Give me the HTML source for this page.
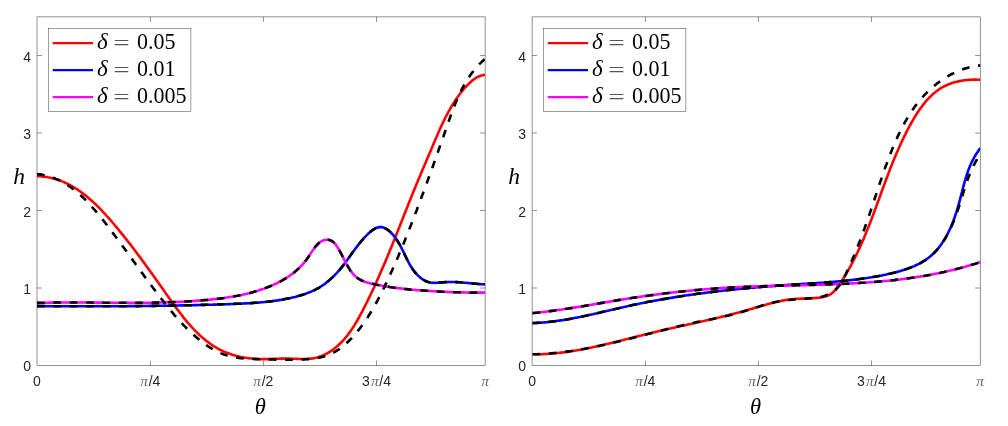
<!DOCTYPE html>
<html><head><meta charset="utf-8"><style>
html,body{margin:0;padding:0;background:#fff;}
svg{display:block;}
.tk{font-family:"Liberation Sans",sans-serif;font-size:14px;fill:#262626;}
.pi{font-family:"Liberation Serif",serif;font-style:italic;font-size:15.5px;fill:#686868;}
.lab{font-family:"Liberation Serif",serif;font-style:italic;font-size:24.5px;fill:#000;}
.lg{font-family:"Liberation Serif",serif;font-size:22px;fill:#000;white-space:pre;}
.it{font-style:italic;}
</style></head><body>
<svg width="1008" height="426" viewBox="0 0 1008 426">
<rect width="1008" height="426" fill="#fff"/>
<clipPath id="clipL"><rect x="37.0" y="16.9" width="448.1" height="348.6"/></clipPath>
<g clip-path="url(#clipL)" fill="none" stroke-width="2.6" stroke-linejoin="round">
<path stroke="#ff0000" d="M37.0 176.2 L38.6 176.2 L40.1 176.3 L41.7 176.5 L43.2 176.6 L44.8 176.8 L46.3 177.0 L47.8 177.3 L49.3 177.5 L50.7 177.8 L52.2 178.2 L53.6 178.6 L55.1 179.0 L56.5 179.4 L57.9 179.8 L59.3 180.3 L60.7 180.8 L62.0 181.4 L63.4 181.9 L64.7 182.5 L66.1 183.1 L67.4 183.8 L68.7 184.4 L70.0 185.1 L71.3 185.8 L72.6 186.5 L73.8 187.3 L75.1 188.0 L76.3 188.8 L77.6 189.6 L78.8 190.5 L80.0 191.3 L81.2 192.2 L82.4 193.1 L83.6 194.0 L84.8 194.9 L86.0 195.8 L87.1 196.8 L88.3 197.7 L89.4 198.7 L90.6 199.7 L91.7 200.7 L92.8 201.7 L93.9 202.7 L95.0 203.8 L96.1 204.8 L97.2 205.9 L98.3 206.9 L99.3 208.0 L100.4 209.1 L101.5 210.2 L102.5 211.3 L103.5 212.4 L104.6 213.5 L105.6 214.7 L106.6 215.8 L107.7 216.9 L108.7 218.1 L109.7 219.2 L110.7 220.4 L111.7 221.5 L112.7 222.7 L113.6 223.8 L114.6 225.0 L115.6 226.1 L116.6 227.3 L117.5 228.4 L118.5 229.6 L119.4 230.8 L120.4 231.9 L121.3 233.1 L122.3 234.3 L123.2 235.4 L124.1 236.6 L125.1 237.8 L126.0 238.9 L126.9 240.1 L127.8 241.3 L128.7 242.4 L129.7 243.6 L130.6 244.8 L131.5 246.0 L132.4 247.1 L133.3 248.3 L134.2 249.5 L135.1 250.7 L136.0 251.9 L136.8 253.1 L137.7 254.2 L138.6 255.4 L139.5 256.6 L140.4 257.8 L141.3 259.0 L142.1 260.2 L143.0 261.4 L143.9 262.6 L144.8 263.8 L145.6 265.0 L146.5 266.2 L147.4 267.4 L148.2 268.6 L149.1 269.8 L150.0 271.0 L150.8 272.2 L151.7 273.4 L152.6 274.6 L153.4 275.8 L154.3 277.0 L155.2 278.3 L156.0 279.5 L156.9 280.7 L157.8 281.9 L158.6 283.1 L159.5 284.4 L160.4 285.6 L161.2 286.8 L162.1 288.0 L163.0 289.3 L163.8 290.5 L164.7 291.7 L165.6 293.0 L166.5 294.2 L167.3 295.5 L168.2 296.7 L169.1 297.9 L170.0 299.2 L170.9 300.4 L171.7 301.7 L172.6 302.9 L173.5 304.1 L174.4 305.4 L175.3 306.6 L176.2 307.9 L177.1 309.1 L178.1 310.3 L179.0 311.5 L179.9 312.8 L180.8 314.0 L181.8 315.2 L182.7 316.4 L183.6 317.6 L184.6 318.8 L185.6 319.9 L186.5 321.1 L187.5 322.3 L188.5 323.4 L189.5 324.6 L190.5 325.7 L191.5 326.8 L192.5 327.9 L193.5 329.0 L194.5 330.1 L195.6 331.2 L196.6 332.2 L197.7 333.3 L198.8 334.3 L199.8 335.3 L200.9 336.3 L202.0 337.3 L203.2 338.3 L204.3 339.2 L205.4 340.1 L206.6 341.1 L207.7 341.9 L208.9 342.8 L210.1 343.7 L211.3 344.5 L212.5 345.3 L213.7 346.1 L215.0 346.9 L216.2 347.6 L217.5 348.4 L218.8 349.1 L220.1 349.8 L221.4 350.4 L222.7 351.0 L224.1 351.7 L225.5 352.2 L226.8 352.8 L228.2 353.3 L229.6 353.8 L231.1 354.3 L232.5 354.8 L233.9 355.2 L235.4 355.6 L236.9 356.0 L238.4 356.3 L239.8 356.7 L241.3 357.0 L242.8 357.3 L244.3 357.5 L245.9 357.8 L247.4 358.0 L248.9 358.2 L250.4 358.4 L251.9 358.5 L253.5 358.7 L255.0 358.8 L256.5 358.9 L258.0 359.0 L259.5 359.0 L261.0 359.1 L262.5 359.1 L264.0 359.1 L265.5 359.1 L267.0 359.1 L268.5 359.1 L270.0 359.0 L271.5 359.0 L272.9 358.9 L274.4 358.8 L275.9 358.8 L277.3 358.7 L278.8 358.7 L280.3 358.6 L281.8 358.6 L283.3 358.6 L284.8 358.5 L286.3 358.5 L287.8 358.6 L289.3 358.6 L290.9 358.7 L292.4 358.7 L294.0 358.8 L295.5 358.8 L297.1 358.9 L298.6 359.0 L300.2 359.0 L301.7 359.0 L303.2 359.0 L304.8 359.0 L306.3 359.0 L307.8 358.9 L309.3 358.8 L310.8 358.6 L312.3 358.5 L313.8 358.2 L315.2 357.9 L316.7 357.6 L318.1 357.2 L319.5 356.7 L320.9 356.2 L322.2 355.7 L323.6 355.1 L324.9 354.5 L326.2 353.8 L327.5 353.1 L328.8 352.4 L330.0 351.6 L331.3 350.8 L332.5 350.0 L333.7 349.1 L334.8 348.2 L336.0 347.2 L337.1 346.3 L338.2 345.3 L339.3 344.3 L340.4 343.2 L341.5 342.2 L342.5 341.1 L343.5 340.0 L344.5 338.9 L345.4 337.8 L346.4 336.6 L347.3 335.5 L348.2 334.3 L349.1 333.1 L350.0 331.9 L350.9 330.6 L351.7 329.4 L352.5 328.1 L353.4 326.9 L354.2 325.6 L355.0 324.3 L355.7 323.0 L356.5 321.7 L357.3 320.4 L358.0 319.1 L358.8 317.8 L359.5 316.4 L360.2 315.1 L360.9 313.8 L361.7 312.4 L362.4 311.1 L363.1 309.7 L363.8 308.4 L364.4 307.0 L365.1 305.7 L365.8 304.3 L366.5 303.0 L367.2 301.6 L367.8 300.3 L368.5 298.9 L369.2 297.6 L369.8 296.2 L370.5 294.8 L371.1 293.5 L371.8 292.1 L372.4 290.8 L373.0 289.4 L373.7 288.0 L374.3 286.7 L374.9 285.3 L375.6 283.9 L376.2 282.6 L376.8 281.2 L377.4 279.8 L378.0 278.5 L378.6 277.1 L379.2 275.7 L379.8 274.4 L380.4 273.0 L381.0 271.6 L381.6 270.2 L382.2 268.9 L382.8 267.5 L383.4 266.1 L384.0 264.7 L384.6 263.4 L385.2 262.0 L385.7 260.6 L386.3 259.2 L386.9 257.8 L387.5 256.5 L388.0 255.1 L388.6 253.7 L389.2 252.3 L389.7 250.9 L390.3 249.5 L390.9 248.2 L391.4 246.8 L392.0 245.4 L392.6 244.0 L393.1 242.6 L393.7 241.2 L394.2 239.9 L394.8 238.5 L395.3 237.1 L395.9 235.7 L396.4 234.3 L397.0 232.9 L397.6 231.5 L398.1 230.1 L398.7 228.7 L399.2 227.4 L399.8 226.0 L400.3 224.6 L400.9 223.2 L401.4 221.8 L402.0 220.4 L402.5 219.0 L403.1 217.6 L403.6 216.2 L404.2 214.8 L404.7 213.5 L405.3 212.1 L405.8 210.7 L406.4 209.3 L406.9 207.9 L407.5 206.5 L408.0 205.1 L408.6 203.7 L409.1 202.3 L409.7 200.9 L410.3 199.5 L410.8 198.1 L411.4 196.7 L411.9 195.4 L412.5 194.0 L413.1 192.6 L413.6 191.2 L414.2 189.8 L414.8 188.4 L415.4 187.0 L415.9 185.6 L416.5 184.2 L417.1 182.8 L417.7 181.4 L418.2 180.0 L418.8 178.7 L419.4 177.3 L420.0 175.9 L420.6 174.5 L421.2 173.1 L421.7 171.7 L422.3 170.3 L422.9 168.9 L423.5 167.5 L424.1 166.2 L424.7 164.8 L425.3 163.4 L425.9 162.0 L426.4 160.6 L427.0 159.2 L427.6 157.9 L428.2 156.5 L428.8 155.1 L429.4 153.7 L430.0 152.3 L430.6 151.0 L431.1 149.6 L431.7 148.2 L432.3 146.8 L432.9 145.5 L433.5 144.1 L434.0 142.7 L434.6 141.4 L435.2 140.0 L435.8 138.6 L436.4 137.3 L437.0 135.9 L437.5 134.5 L438.1 133.2 L438.7 131.8 L439.3 130.5 L439.9 129.1 L440.6 127.7 L441.2 126.4 L441.8 125.0 L442.4 123.7 L443.1 122.4 L443.7 121.0 L444.4 119.7 L445.0 118.3 L445.7 117.0 L446.4 115.7 L447.1 114.3 L447.8 113.0 L448.5 111.7 L449.3 110.3 L450.0 109.0 L450.8 107.7 L451.5 106.4 L452.3 105.1 L453.1 103.8 L453.9 102.5 L454.8 101.2 L455.6 99.9 L456.5 98.7 L457.3 97.4 L458.2 96.2 L459.1 94.9 L460.0 93.7 L460.9 92.5 L461.9 91.4 L462.8 90.2 L463.8 89.1 L464.8 87.9 L465.8 86.8 L466.8 85.8 L467.8 84.7 L468.9 83.7 L469.9 82.7 L471.0 81.7 L472.1 80.7 L473.2 79.8 L474.4 79.0 L475.6 78.2 L476.8 77.4 L478.1 76.8 L479.5 76.2 L480.9 75.7 L482.3 75.3 L483.9 75.0 L485.5 74.8"/>
<path stroke="#0000ff" d="M37.0 306.1 L38.5 306.1 L40.0 306.1 L41.5 306.1 L43.0 306.1 L44.5 306.1 L46.0 306.2 L47.5 306.2 L49.0 306.2 L50.5 306.2 L52.0 306.2 L53.5 306.2 L55.0 306.2 L56.5 306.2 L57.9 306.2 L59.4 306.2 L60.9 306.2 L62.4 306.2 L63.9 306.2 L65.4 306.2 L66.9 306.2 L68.4 306.3 L69.9 306.3 L71.4 306.3 L72.9 306.3 L74.4 306.3 L75.9 306.3 L77.4 306.3 L78.9 306.3 L80.4 306.3 L81.9 306.3 L83.4 306.3 L84.9 306.3 L86.4 306.3 L87.9 306.3 L89.4 306.3 L90.9 306.3 L92.4 306.3 L93.8 306.3 L95.3 306.3 L96.8 306.3 L98.3 306.3 L99.8 306.3 L101.3 306.3 L102.8 306.3 L104.3 306.3 L105.8 306.3 L107.3 306.3 L108.8 306.2 L110.3 306.2 L111.8 306.2 L113.3 306.2 L114.8 306.2 L116.3 306.2 L117.8 306.2 L119.3 306.2 L120.8 306.2 L122.3 306.2 L123.8 306.2 L125.3 306.2 L126.7 306.2 L128.2 306.1 L129.7 306.1 L131.2 306.1 L132.7 306.1 L134.2 306.1 L135.7 306.1 L137.2 306.1 L138.7 306.1 L140.2 306.0 L141.7 306.0 L143.2 306.0 L144.7 306.0 L146.2 306.0 L147.7 306.0 L149.2 305.9 L150.7 305.9 L152.2 305.9 L153.7 305.9 L155.2 305.9 L156.7 305.8 L158.2 305.8 L159.6 305.8 L161.1 305.8 L162.6 305.8 L164.1 305.7 L165.6 305.7 L167.1 305.7 L168.6 305.7 L170.1 305.6 L171.6 305.6 L173.1 305.6 L174.6 305.6 L176.1 305.5 L177.6 305.5 L179.1 305.5 L180.6 305.4 L182.1 305.4 L183.6 305.4 L185.1 305.3 L186.6 305.3 L188.1 305.3 L189.6 305.2 L191.0 305.2 L192.5 305.2 L194.0 305.1 L195.5 305.1 L197.0 305.1 L198.5 305.0 L200.0 305.0 L201.5 304.9 L203.0 304.9 L204.5 304.9 L206.0 304.8 L207.5 304.8 L209.0 304.7 L210.5 304.7 L212.0 304.7 L213.5 304.6 L215.0 304.6 L216.5 304.5 L218.0 304.5 L219.5 304.4 L221.0 304.4 L222.5 304.3 L224.0 304.3 L225.4 304.2 L226.9 304.2 L228.4 304.1 L229.9 304.1 L231.4 304.0 L232.9 304.0 L234.4 303.9 L235.9 303.8 L237.4 303.8 L238.9 303.7 L240.4 303.7 L241.9 303.6 L243.4 303.5 L244.9 303.4 L246.4 303.4 L247.9 303.3 L249.4 303.2 L250.9 303.1 L252.4 303.0 L253.8 302.9 L255.3 302.8 L256.8 302.7 L258.3 302.6 L259.8 302.5 L261.3 302.3 L262.8 302.2 L264.3 302.0 L265.8 301.9 L267.2 301.7 L268.7 301.6 L270.2 301.4 L271.7 301.2 L273.2 301.0 L274.6 300.8 L276.1 300.6 L277.6 300.4 L279.1 300.1 L280.6 299.9 L282.0 299.7 L283.5 299.4 L285.0 299.1 L286.4 298.8 L287.9 298.5 L289.4 298.2 L290.8 297.9 L292.3 297.6 L293.8 297.2 L295.2 296.9 L296.7 296.5 L298.1 296.1 L299.6 295.7 L301.0 295.3 L302.4 294.8 L303.9 294.4 L305.3 293.9 L306.7 293.4 L308.1 292.8 L309.5 292.3 L310.9 291.7 L312.2 291.1 L313.6 290.5 L314.9 289.9 L316.3 289.2 L317.6 288.5 L318.9 287.8 L320.1 287.0 L321.4 286.2 L322.6 285.4 L323.9 284.5 L325.1 283.7 L326.2 282.7 L327.4 281.8 L328.6 280.9 L329.7 279.9 L330.8 278.9 L331.9 277.9 L333.0 276.8 L334.1 275.8 L335.1 274.7 L336.2 273.6 L337.2 272.5 L338.2 271.4 L339.2 270.3 L340.1 269.1 L341.1 268.0 L342.0 266.8 L343.0 265.7 L343.9 264.5 L344.8 263.3 L345.7 262.1 L346.6 260.9 L347.4 259.7 L348.3 258.5 L349.2 257.3 L350.0 256.1 L350.9 254.8 L351.8 253.6 L352.6 252.4 L353.5 251.2 L354.4 250.0 L355.3 248.8 L356.2 247.6 L357.1 246.4 L358.0 245.2 L358.9 244.0 L359.9 242.9 L360.8 241.7 L361.8 240.5 L362.8 239.4 L363.8 238.2 L364.9 237.1 L366.0 236.0 L367.0 234.9 L368.2 233.8 L369.3 232.8 L370.5 231.8 L371.7 230.8 L372.9 229.9 L374.1 229.1 L375.3 228.4 L376.6 227.8 L377.9 227.4 L379.1 227.1 L380.4 227.0 L381.7 227.1 L382.9 227.4 L384.2 227.8 L385.4 228.4 L386.7 229.1 L387.9 230.0 L389.1 230.9 L390.2 231.9 L391.3 233.0 L392.4 234.2 L393.5 235.4 L394.5 236.6 L395.4 237.9 L396.3 239.2 L397.2 240.5 L398.0 241.8 L398.8 243.1 L399.6 244.4 L400.3 245.7 L401.0 247.1 L401.7 248.4 L402.4 249.8 L403.1 251.1 L403.7 252.5 L404.4 253.8 L405.0 255.2 L405.6 256.5 L406.3 257.9 L406.9 259.2 L407.6 260.5 L408.3 261.9 L409.0 263.2 L409.7 264.5 L410.5 265.8 L411.3 267.0 L412.1 268.3 L412.9 269.5 L413.8 270.7 L414.7 271.9 L415.7 273.1 L416.7 274.2 L417.8 275.3 L418.9 276.4 L420.0 277.4 L421.2 278.3 L422.4 279.2 L423.7 280.0 L424.9 280.7 L426.2 281.3 L427.6 281.8 L429.0 282.2 L430.4 282.5 L431.8 282.7 L433.2 282.8 L434.7 282.9 L436.2 282.8 L437.7 282.7 L439.2 282.6 L440.7 282.5 L442.2 282.4 L443.7 282.2 L445.3 282.1 L446.8 282.1 L448.3 282.0 L449.8 282.0 L451.3 282.0 L452.8 282.0 L454.3 282.0 L455.7 282.1 L457.2 282.1 L458.7 282.2 L460.2 282.3 L461.7 282.4 L463.2 282.6 L464.6 282.7 L466.1 282.8 L467.6 283.0 L469.1 283.1 L470.6 283.3 L472.0 283.4 L473.5 283.5 L475.0 283.7 L476.5 283.8 L478.0 284.0 L479.5 284.1 L481.0 284.2 L482.5 284.3 L484.0 284.4 L485.5 284.5"/>
<path stroke="#ff00ff" d="M37.0 302.9 L38.5 302.9 L40.0 302.8 L41.5 302.8 L43.0 302.7 L44.5 302.7 L46.0 302.7 L47.5 302.7 L49.0 302.6 L50.5 302.6 L52.0 302.6 L53.5 302.6 L55.0 302.5 L56.5 302.5 L58.0 302.5 L59.5 302.5 L61.0 302.5 L62.5 302.5 L64.0 302.5 L65.5 302.5 L67.0 302.5 L68.5 302.5 L70.0 302.5 L71.5 302.5 L73.0 302.5 L74.5 302.5 L76.0 302.5 L77.5 302.5 L79.0 302.5 L80.5 302.5 L82.0 302.5 L83.5 302.5 L85.0 302.5 L86.5 302.5 L88.0 302.5 L89.5 302.5 L91.0 302.5 L92.5 302.6 L94.0 302.6 L95.5 302.6 L97.0 302.6 L98.4 302.6 L99.9 302.6 L101.4 302.6 L102.9 302.6 L104.4 302.7 L105.9 302.7 L107.4 302.7 L108.9 302.7 L110.4 302.7 L111.9 302.7 L113.4 302.7 L114.9 302.7 L116.4 302.7 L117.9 302.8 L119.4 302.8 L120.9 302.8 L122.4 302.8 L123.9 302.8 L125.4 302.8 L126.8 302.8 L128.3 302.8 L129.8 302.8 L131.3 302.8 L132.8 302.8 L134.3 302.8 L135.8 302.8 L137.3 302.8 L138.8 302.8 L140.3 302.8 L141.8 302.8 L143.3 302.8 L144.8 302.7 L146.3 302.7 L147.8 302.7 L149.3 302.7 L150.8 302.7 L152.2 302.7 L153.7 302.6 L155.2 302.6 L156.7 302.6 L158.2 302.6 L159.7 302.5 L161.2 302.5 L162.7 302.4 L164.2 302.4 L165.7 302.4 L167.2 302.3 L168.7 302.3 L170.2 302.2 L171.7 302.2 L173.2 302.1 L174.7 302.0 L176.2 302.0 L177.7 301.9 L179.2 301.8 L180.7 301.8 L182.1 301.7 L183.6 301.6 L185.1 301.5 L186.6 301.5 L188.1 301.4 L189.6 301.3 L191.1 301.2 L192.6 301.1 L194.1 301.0 L195.6 300.9 L197.1 300.8 L198.6 300.6 L200.1 300.5 L201.6 300.4 L203.1 300.3 L204.6 300.1 L206.1 300.0 L207.6 299.9 L209.1 299.7 L210.6 299.6 L212.1 299.4 L213.6 299.3 L215.1 299.1 L216.6 298.9 L218.1 298.7 L219.6 298.6 L221.1 298.4 L222.6 298.2 L224.0 298.0 L225.5 297.7 L227.0 297.5 L228.5 297.3 L230.0 297.1 L231.5 296.8 L232.9 296.6 L234.4 296.3 L235.9 296.0 L237.4 295.8 L238.8 295.5 L240.3 295.2 L241.8 294.9 L243.2 294.5 L244.7 294.2 L246.1 293.9 L247.6 293.5 L249.0 293.2 L250.5 292.8 L251.9 292.4 L253.4 292.0 L254.8 291.6 L256.2 291.2 L257.6 290.7 L259.1 290.3 L260.5 289.8 L261.9 289.3 L263.3 288.9 L264.7 288.4 L266.1 287.8 L267.5 287.3 L268.8 286.8 L270.2 286.2 L271.6 285.6 L273.0 285.0 L274.3 284.4 L275.7 283.8 L277.0 283.2 L278.3 282.5 L279.6 281.8 L281.0 281.1 L282.3 280.4 L283.5 279.7 L284.8 278.9 L286.1 278.1 L287.3 277.3 L288.6 276.5 L289.8 275.7 L291.0 274.8 L292.2 273.9 L293.4 273.0 L294.6 272.1 L295.7 271.1 L296.8 270.1 L298.0 269.1 L299.1 268.1 L300.1 267.0 L301.2 265.9 L302.2 264.8 L303.3 263.6 L304.3 262.4 L305.3 261.2 L306.2 260.0 L307.2 258.7 L308.1 257.4 L309.0 256.1 L309.9 254.8 L310.7 253.4 L311.6 252.1 L312.5 250.8 L313.4 249.5 L314.3 248.2 L315.2 247.0 L316.1 245.8 L317.1 244.8 L318.1 243.7 L319.2 242.8 L320.2 242.0 L321.4 241.3 L322.6 240.7 L323.8 240.2 L325.1 239.9 L326.5 239.7 L327.8 239.7 L329.1 239.9 L330.4 240.3 L331.6 240.9 L332.8 241.7 L333.9 242.6 L334.9 243.6 L335.8 244.8 L336.7 246.0 L337.6 247.3 L338.4 248.7 L339.2 250.0 L339.9 251.4 L340.7 252.8 L341.4 254.1 L342.1 255.5 L342.8 256.8 L343.4 258.2 L344.1 259.5 L344.8 260.9 L345.5 262.3 L346.2 263.6 L347.0 264.9 L347.8 266.3 L348.5 267.6 L349.4 268.9 L350.2 270.2 L351.1 271.4 L352.0 272.6 L353.0 273.8 L354.0 274.9 L355.0 275.9 L356.1 276.9 L357.2 277.8 L358.4 278.6 L359.7 279.4 L360.9 280.1 L362.2 280.7 L363.6 281.3 L364.9 281.8 L366.3 282.3 L367.8 282.7 L369.2 283.1 L370.7 283.5 L372.1 283.8 L373.6 284.1 L375.1 284.4 L376.6 284.7 L378.0 285.0 L379.5 285.3 L381.0 285.6 L382.5 285.9 L384.0 286.1 L385.5 286.4 L387.0 286.6 L388.4 286.8 L389.9 287.1 L391.4 287.3 L392.9 287.5 L394.4 287.7 L395.9 287.9 L397.4 288.1 L398.8 288.3 L400.3 288.4 L401.8 288.6 L403.3 288.8 L404.8 289.0 L406.3 289.1 L407.8 289.3 L409.3 289.4 L410.7 289.6 L412.2 289.7 L413.7 289.8 L415.2 289.9 L416.7 290.1 L418.2 290.2 L419.7 290.3 L421.2 290.4 L422.7 290.5 L424.2 290.6 L425.6 290.7 L427.1 290.8 L428.6 290.9 L430.1 291.0 L431.6 291.1 L433.1 291.2 L434.6 291.3 L436.1 291.4 L437.6 291.5 L439.1 291.6 L440.6 291.6 L442.1 291.7 L443.6 291.8 L445.1 291.8 L446.6 291.9 L448.1 292.0 L449.6 292.0 L451.1 292.1 L452.6 292.1 L454.1 292.2 L455.6 292.2 L457.1 292.3 L458.6 292.3 L460.1 292.4 L461.5 292.4 L463.0 292.4 L464.5 292.5 L466.0 292.5 L467.5 292.5 L469.0 292.6 L470.5 292.6 L472.0 292.6 L473.5 292.6 L475.0 292.6 L476.5 292.6 L478.0 292.6 L479.5 292.6 L481.0 292.6 L482.5 292.6 L484.0 292.6 L485.5 292.6"/>
<path stroke="#000" stroke-dasharray="7.7 8.67" d="M37.0 174.0 L38.6 174.2 L40.1 174.4 L41.6 174.6 L43.1 174.9 L44.6 175.2 L46.1 175.6 L47.5 176.0 L49.0 176.4 L50.4 176.8 L51.8 177.3 L53.2 177.8 L54.6 178.3 L55.9 178.9 L57.3 179.4 L58.6 180.0 L59.9 180.7 L61.2 181.3 L62.5 182.0 L63.8 182.7 L65.0 183.5 L66.3 184.2 L67.5 185.0 L68.7 185.8 L69.9 186.7 L71.1 187.5 L72.3 188.4 L73.5 189.3 L74.7 190.2 L75.8 191.1 L77.0 192.0 L78.1 193.0 L79.2 194.0 L80.3 195.0 L81.4 196.0 L82.5 197.0 L83.6 198.0 L84.7 199.1 L85.7 200.1 L86.8 201.2 L87.8 202.3 L88.9 203.4 L89.9 204.5 L90.9 205.6 L91.9 206.8 L92.9 207.9 L93.9 209.1 L94.9 210.2 L95.9 211.4 L96.9 212.5 L97.9 213.7 L98.8 214.9 L99.8 216.1 L100.8 217.3 L101.7 218.5 L102.7 219.7 L103.6 220.8 L104.6 222.0 L105.5 223.2 L106.4 224.4 L107.3 225.6 L108.3 226.8 L109.2 228.0 L110.1 229.3 L111.0 230.5 L111.9 231.7 L112.8 232.9 L113.7 234.1 L114.6 235.3 L115.5 236.5 L116.4 237.7 L117.3 238.9 L118.2 240.1 L119.1 241.3 L120.0 242.5 L120.9 243.7 L121.8 244.9 L122.6 246.1 L123.5 247.3 L124.4 248.5 L125.3 249.7 L126.2 250.9 L127.0 252.1 L127.9 253.3 L128.8 254.5 L129.6 255.7 L130.5 257.0 L131.4 258.2 L132.3 259.4 L133.1 260.6 L134.0 261.8 L134.9 263.0 L135.7 264.2 L136.6 265.4 L137.5 266.6 L138.3 267.8 L139.2 269.0 L140.1 270.2 L140.9 271.4 L141.8 272.6 L142.7 273.8 L143.6 275.0 L144.4 276.2 L145.3 277.4 L146.2 278.6 L147.1 279.8 L148.0 281.0 L148.8 282.2 L149.7 283.4 L150.6 284.6 L151.5 285.8 L152.4 287.0 L153.3 288.2 L154.2 289.3 L155.1 290.5 L156.0 291.7 L156.9 292.9 L157.8 294.1 L158.7 295.3 L159.6 296.5 L160.5 297.7 L161.4 298.9 L162.3 300.0 L163.3 301.2 L164.2 302.4 L165.1 303.6 L166.1 304.8 L167.0 305.9 L168.0 307.1 L168.9 308.3 L169.9 309.5 L170.8 310.6 L171.8 311.8 L172.8 313.0 L173.7 314.1 L174.7 315.3 L175.7 316.4 L176.7 317.5 L177.7 318.7 L178.7 319.8 L179.7 320.9 L180.7 322.0 L181.8 323.2 L182.8 324.3 L183.8 325.4 L184.9 326.4 L185.9 327.5 L187.0 328.6 L188.1 329.6 L189.1 330.7 L190.2 331.7 L191.3 332.8 L192.4 333.8 L193.5 334.8 L194.7 335.8 L195.8 336.8 L196.9 337.8 L198.1 338.7 L199.3 339.7 L200.4 340.6 L201.6 341.6 L202.8 342.5 L204.0 343.4 L205.2 344.3 L206.4 345.1 L207.7 346.0 L208.9 346.8 L210.2 347.6 L211.4 348.4 L212.7 349.1 L214.0 349.8 L215.3 350.5 L216.6 351.2 L217.9 351.9 L219.2 352.5 L220.6 353.1 L221.9 353.6 L223.3 354.2 L224.7 354.7 L226.1 355.1 L227.5 355.6 L228.9 355.9 L230.3 356.3 L231.7 356.6 L233.2 356.9 L234.6 357.2 L236.1 357.5 L237.5 357.7 L239.0 357.9 L240.5 358.1 L242.0 358.2 L243.5 358.4 L245.0 358.5 L246.5 358.6 L248.0 358.7 L249.5 358.8 L251.0 358.9 L252.5 358.9 L254.0 359.0 L255.5 359.1 L257.1 359.1 L258.6 359.2 L260.1 359.2 L261.6 359.2 L263.1 359.3 L264.6 359.3 L266.1 359.4 L267.6 359.4 L269.1 359.4 L270.7 359.5 L272.2 359.5 L273.7 359.5 L275.2 359.6 L276.7 359.6 L278.2 359.6 L279.7 359.6 L281.2 359.7 L282.7 359.7 L284.2 359.7 L285.7 359.7 L287.2 359.7 L288.7 359.7 L290.2 359.7 L291.8 359.7 L293.3 359.7 L294.8 359.6 L296.3 359.6 L297.8 359.6 L299.3 359.5 L300.9 359.5 L302.4 359.4 L303.9 359.4 L305.4 359.3 L306.9 359.2 L308.4 359.1 L310.0 359.0 L311.5 358.8 L313.0 358.7 L314.5 358.5 L315.9 358.3 L317.4 358.0 L318.9 357.7 L320.3 357.4 L321.7 357.1 L323.2 356.7 L324.6 356.3 L326.0 355.9 L327.3 355.4 L328.7 354.9 L330.0 354.3 L331.3 353.7 L332.6 353.0 L333.9 352.4 L335.2 351.6 L336.4 350.9 L337.6 350.1 L338.9 349.3 L340.1 348.5 L341.2 347.6 L342.4 346.7 L343.6 345.8 L344.7 344.8 L345.8 343.8 L346.9 342.8 L348.0 341.8 L349.1 340.8 L350.1 339.7 L351.2 338.6 L352.2 337.5 L353.2 336.4 L354.2 335.3 L355.2 334.1 L356.2 333.0 L357.2 331.8 L358.1 330.6 L359.1 329.4 L360.0 328.2 L360.9 327.0 L361.8 325.8 L362.7 324.6 L363.6 323.3 L364.4 322.1 L365.3 320.8 L366.1 319.6 L367.0 318.3 L367.8 317.1 L368.6 315.8 L369.4 314.5 L370.2 313.3 L371.0 312.0 L371.7 310.7 L372.5 309.4 L373.3 308.1 L374.0 306.8 L374.7 305.5 L375.5 304.2 L376.2 302.9 L376.9 301.6 L377.6 300.3 L378.3 298.9 L379.0 297.6 L379.7 296.3 L380.4 295.0 L381.1 293.6 L381.7 292.3 L382.4 290.9 L383.1 289.6 L383.7 288.3 L384.4 286.9 L385.0 285.6 L385.7 284.2 L386.3 282.9 L387.0 281.5 L387.6 280.1 L388.2 278.8 L388.9 277.4 L389.5 276.1 L390.1 274.7 L390.7 273.3 L391.3 272.0 L392.0 270.6 L392.6 269.2 L393.2 267.9 L393.8 266.5 L394.4 265.1 L395.0 263.8 L395.6 262.4 L396.2 261.0 L396.8 259.6 L397.4 258.3 L398.0 256.9 L398.6 255.5 L399.1 254.1 L399.7 252.7 L400.3 251.4 L400.9 250.0 L401.5 248.6 L402.0 247.2 L402.6 245.8 L403.2 244.4 L403.8 243.0 L404.3 241.7 L404.9 240.3 L405.4 238.9 L406.0 237.5 L406.6 236.1 L407.1 234.7 L407.7 233.3 L408.2 231.9 L408.8 230.5 L409.3 229.1 L409.9 227.7 L410.4 226.4 L411.0 225.0 L411.5 223.6 L412.1 222.2 L412.6 220.8 L413.1 219.4 L413.7 218.0 L414.2 216.6 L414.8 215.2 L415.3 213.8 L415.8 212.4 L416.4 211.0 L416.9 209.6 L417.4 208.2 L417.9 206.8 L418.5 205.4 L419.0 204.0 L419.5 202.6 L420.0 201.2 L420.6 199.8 L421.1 198.4 L421.6 197.0 L422.1 195.6 L422.6 194.2 L423.2 192.8 L423.7 191.4 L424.2 190.0 L424.7 188.6 L425.2 187.2 L425.7 185.8 L426.3 184.4 L426.8 183.0 L427.3 181.6 L427.8 180.2 L428.3 178.8 L428.8 177.4 L429.3 176.0 L429.8 174.6 L430.3 173.2 L430.8 171.8 L431.4 170.4 L431.9 169.0 L432.4 167.6 L432.9 166.2 L433.4 164.8 L433.9 163.3 L434.4 161.9 L434.9 160.5 L435.4 159.1 L435.9 157.7 L436.4 156.3 L436.9 154.9 L437.4 153.5 L437.9 152.1 L438.4 150.7 L438.9 149.2 L439.4 147.8 L439.9 146.4 L440.4 145.0 L440.9 143.6 L441.4 142.2 L441.9 140.7 L442.4 139.3 L442.9 137.9 L443.4 136.5 L443.9 135.1 L444.4 133.6 L444.9 132.2 L445.4 130.8 L445.9 129.4 L446.4 127.9 L446.9 126.5 L447.4 125.1 L447.9 123.7 L448.4 122.2 L448.9 120.8 L449.4 119.4 L449.9 118.0 L450.4 116.5 L450.9 115.1 L451.4 113.7 L452.0 112.3 L452.5 110.9 L453.0 109.5 L453.6 108.1 L454.1 106.7 L454.7 105.3 L455.2 103.9 L455.8 102.5 L456.4 101.1 L457.0 99.7 L457.6 98.3 L458.2 97.0 L458.8 95.6 L459.4 94.3 L460.1 92.9 L460.7 91.6 L461.4 90.2 L462.0 88.9 L462.7 87.6 L463.4 86.3 L464.1 85.0 L464.9 83.7 L465.6 82.4 L466.4 81.2 L467.2 79.9 L468.0 78.7 L468.8 77.4 L469.6 76.2 L470.4 75.0 L471.3 73.8 L472.2 72.6 L473.1 71.5 L474.0 70.3 L474.9 69.2 L475.9 68.0 L476.9 66.9 L477.9 65.8 L478.9 64.7 L479.9 63.6 L481.0 62.6 L482.1 61.5 L483.2 60.5 L484.3 59.5 L485.5 58.5"/>
<path stroke="#000" stroke-dasharray="7.7 8.67" d="M37.0 306.1 L38.5 306.1 L40.0 306.1 L41.5 306.1 L43.0 306.1 L44.5 306.1 L46.0 306.2 L47.5 306.2 L49.0 306.2 L50.5 306.2 L52.0 306.2 L53.5 306.2 L55.0 306.2 L56.5 306.2 L57.9 306.2 L59.4 306.2 L60.9 306.2 L62.4 306.2 L63.9 306.2 L65.4 306.2 L66.9 306.2 L68.4 306.3 L69.9 306.3 L71.4 306.3 L72.9 306.3 L74.4 306.3 L75.9 306.3 L77.4 306.3 L78.9 306.3 L80.4 306.3 L81.9 306.3 L83.4 306.3 L84.9 306.3 L86.4 306.3 L87.9 306.3 L89.4 306.3 L90.9 306.3 L92.4 306.3 L93.8 306.3 L95.3 306.3 L96.8 306.3 L98.3 306.3 L99.8 306.3 L101.3 306.3 L102.8 306.3 L104.3 306.3 L105.8 306.3 L107.3 306.3 L108.8 306.2 L110.3 306.2 L111.8 306.2 L113.3 306.2 L114.8 306.2 L116.3 306.2 L117.8 306.2 L119.3 306.2 L120.8 306.2 L122.3 306.2 L123.8 306.2 L125.3 306.2 L126.7 306.2 L128.2 306.1 L129.7 306.1 L131.2 306.1 L132.7 306.1 L134.2 306.1 L135.7 306.1 L137.2 306.1 L138.7 306.1 L140.2 306.0 L141.7 306.0 L143.2 306.0 L144.7 306.0 L146.2 306.0 L147.7 306.0 L149.2 305.9 L150.7 305.9 L152.2 305.9 L153.7 305.9 L155.2 305.9 L156.7 305.8 L158.2 305.8 L159.6 305.8 L161.1 305.8 L162.6 305.8 L164.1 305.7 L165.6 305.7 L167.1 305.7 L168.6 305.7 L170.1 305.6 L171.6 305.6 L173.1 305.6 L174.6 305.6 L176.1 305.5 L177.6 305.5 L179.1 305.5 L180.6 305.4 L182.1 305.4 L183.6 305.4 L185.1 305.3 L186.6 305.3 L188.1 305.3 L189.6 305.2 L191.0 305.2 L192.5 305.2 L194.0 305.1 L195.5 305.1 L197.0 305.1 L198.5 305.0 L200.0 305.0 L201.5 304.9 L203.0 304.9 L204.5 304.9 L206.0 304.8 L207.5 304.8 L209.0 304.7 L210.5 304.7 L212.0 304.7 L213.5 304.6 L215.0 304.6 L216.5 304.5 L218.0 304.5 L219.5 304.4 L221.0 304.4 L222.5 304.3 L224.0 304.3 L225.4 304.2 L226.9 304.2 L228.4 304.1 L229.9 304.1 L231.4 304.0 L232.9 304.0 L234.4 303.9 L235.9 303.8 L237.4 303.8 L238.9 303.7 L240.4 303.7 L241.9 303.6 L243.4 303.5 L244.9 303.4 L246.4 303.4 L247.9 303.3 L249.4 303.2 L250.9 303.1 L252.4 303.0 L253.8 302.9 L255.3 302.8 L256.8 302.7 L258.3 302.6 L259.8 302.5 L261.3 302.3 L262.8 302.2 L264.3 302.0 L265.8 301.9 L267.2 301.7 L268.7 301.6 L270.2 301.4 L271.7 301.2 L273.2 301.0 L274.6 300.8 L276.1 300.6 L277.6 300.4 L279.1 300.1 L280.6 299.9 L282.0 299.7 L283.5 299.4 L285.0 299.1 L286.4 298.8 L287.9 298.5 L289.4 298.2 L290.8 297.9 L292.3 297.6 L293.8 297.2 L295.2 296.9 L296.7 296.5 L298.1 296.1 L299.6 295.7 L301.0 295.3 L302.4 294.8 L303.9 294.4 L305.3 293.9 L306.7 293.4 L308.1 292.8 L309.5 292.3 L310.9 291.7 L312.2 291.1 L313.6 290.5 L314.9 289.9 L316.3 289.2 L317.6 288.5 L318.9 287.8 L320.1 287.0 L321.4 286.2 L322.6 285.4 L323.9 284.5 L325.1 283.7 L326.2 282.7 L327.4 281.8 L328.6 280.9 L329.7 279.9 L330.8 278.9 L331.9 277.9 L333.0 276.8 L334.1 275.8 L335.1 274.7 L336.2 273.6 L337.2 272.5 L338.2 271.4 L339.2 270.3 L340.1 269.1 L341.1 268.0 L342.0 266.8 L343.0 265.7 L343.9 264.5 L344.8 263.3 L345.7 262.1 L346.6 260.9 L347.4 259.7 L348.3 258.5 L349.2 257.3 L350.0 256.1 L350.9 254.8 L351.8 253.6 L352.6 252.4 L353.5 251.2 L354.4 250.0 L355.3 248.8 L356.2 247.6 L357.1 246.4 L358.0 245.2 L358.9 244.0 L359.9 242.9 L360.8 241.7 L361.8 240.5 L362.8 239.4 L363.8 238.2 L364.9 237.1 L366.0 236.0 L367.0 234.9 L368.2 233.8 L369.3 232.8 L370.5 231.8 L371.7 230.8 L372.9 229.9 L374.1 229.1 L375.3 228.4 L376.6 227.8 L377.9 227.4 L379.1 227.1 L380.4 227.0 L381.7 227.1 L382.9 227.4 L384.2 227.8 L385.4 228.4 L386.7 229.1 L387.9 230.0 L389.1 230.9 L390.2 231.9 L391.3 233.0 L392.4 234.2 L393.5 235.4 L394.5 236.6 L395.4 237.9 L396.3 239.2 L397.2 240.5 L398.0 241.8 L398.8 243.1 L399.6 244.4 L400.3 245.7 L401.0 247.1 L401.7 248.4 L402.4 249.8 L403.1 251.1 L403.7 252.5 L404.4 253.8 L405.0 255.2 L405.6 256.5 L406.3 257.9 L406.9 259.2 L407.6 260.5 L408.3 261.9 L409.0 263.2 L409.7 264.5 L410.5 265.8 L411.3 267.0 L412.1 268.3 L412.9 269.5 L413.8 270.7 L414.7 271.9 L415.7 273.1 L416.7 274.2 L417.8 275.3 L418.9 276.4 L420.0 277.4 L421.2 278.3 L422.4 279.2 L423.7 280.0 L424.9 280.7 L426.2 281.3 L427.6 281.8 L429.0 282.2 L430.4 282.5 L431.8 282.7 L433.2 282.8 L434.7 282.9 L436.2 282.8 L437.7 282.7 L439.2 282.6 L440.7 282.5 L442.2 282.4 L443.7 282.2 L445.3 282.1 L446.8 282.1 L448.3 282.0 L449.8 282.0 L451.3 282.0 L452.8 282.0 L454.3 282.0 L455.7 282.1 L457.2 282.1 L458.7 282.2 L460.2 282.3 L461.7 282.4 L463.2 282.6 L464.6 282.7 L466.1 282.8 L467.6 283.0 L469.1 283.1 L470.6 283.3 L472.0 283.4 L473.5 283.5 L475.0 283.7 L476.5 283.8 L478.0 284.0 L479.5 284.1 L481.0 284.2 L482.5 284.3 L484.0 284.4 L485.5 284.5"/>
<path stroke="#000" stroke-dasharray="7.7 8.67" d="M37.0 302.9 L38.5 302.9 L40.0 302.8 L41.5 302.8 L43.0 302.7 L44.5 302.7 L46.0 302.7 L47.5 302.7 L49.0 302.6 L50.5 302.6 L52.0 302.6 L53.5 302.6 L55.0 302.5 L56.5 302.5 L58.0 302.5 L59.5 302.5 L61.0 302.5 L62.5 302.5 L64.0 302.5 L65.5 302.5 L67.0 302.5 L68.5 302.5 L70.0 302.5 L71.5 302.5 L73.0 302.5 L74.5 302.5 L76.0 302.5 L77.5 302.5 L79.0 302.5 L80.5 302.5 L82.0 302.5 L83.5 302.5 L85.0 302.5 L86.5 302.5 L88.0 302.5 L89.5 302.5 L91.0 302.5 L92.5 302.6 L94.0 302.6 L95.5 302.6 L97.0 302.6 L98.4 302.6 L99.9 302.6 L101.4 302.6 L102.9 302.6 L104.4 302.7 L105.9 302.7 L107.4 302.7 L108.9 302.7 L110.4 302.7 L111.9 302.7 L113.4 302.7 L114.9 302.7 L116.4 302.7 L117.9 302.8 L119.4 302.8 L120.9 302.8 L122.4 302.8 L123.9 302.8 L125.4 302.8 L126.8 302.8 L128.3 302.8 L129.8 302.8 L131.3 302.8 L132.8 302.8 L134.3 302.8 L135.8 302.8 L137.3 302.8 L138.8 302.8 L140.3 302.8 L141.8 302.8 L143.3 302.8 L144.8 302.7 L146.3 302.7 L147.8 302.7 L149.3 302.7 L150.8 302.7 L152.2 302.7 L153.7 302.6 L155.2 302.6 L156.7 302.6 L158.2 302.6 L159.7 302.5 L161.2 302.5 L162.7 302.4 L164.2 302.4 L165.7 302.4 L167.2 302.3 L168.7 302.3 L170.2 302.2 L171.7 302.2 L173.2 302.1 L174.7 302.0 L176.2 302.0 L177.7 301.9 L179.2 301.8 L180.7 301.8 L182.1 301.7 L183.6 301.6 L185.1 301.5 L186.6 301.5 L188.1 301.4 L189.6 301.3 L191.1 301.2 L192.6 301.1 L194.1 301.0 L195.6 300.9 L197.1 300.8 L198.6 300.6 L200.1 300.5 L201.6 300.4 L203.1 300.3 L204.6 300.1 L206.1 300.0 L207.6 299.9 L209.1 299.7 L210.6 299.6 L212.1 299.4 L213.6 299.3 L215.1 299.1 L216.6 298.9 L218.1 298.7 L219.6 298.6 L221.1 298.4 L222.6 298.2 L224.0 298.0 L225.5 297.7 L227.0 297.5 L228.5 297.3 L230.0 297.1 L231.5 296.8 L232.9 296.6 L234.4 296.3 L235.9 296.0 L237.4 295.8 L238.8 295.5 L240.3 295.2 L241.8 294.9 L243.2 294.5 L244.7 294.2 L246.1 293.9 L247.6 293.5 L249.0 293.2 L250.5 292.8 L251.9 292.4 L253.4 292.0 L254.8 291.6 L256.2 291.2 L257.6 290.7 L259.1 290.3 L260.5 289.8 L261.9 289.3 L263.3 288.9 L264.7 288.4 L266.1 287.8 L267.5 287.3 L268.8 286.8 L270.2 286.2 L271.6 285.6 L273.0 285.0 L274.3 284.4 L275.7 283.8 L277.0 283.2 L278.3 282.5 L279.6 281.8 L281.0 281.1 L282.3 280.4 L283.5 279.7 L284.8 278.9 L286.1 278.1 L287.3 277.3 L288.6 276.5 L289.8 275.7 L291.0 274.8 L292.2 273.9 L293.4 273.0 L294.6 272.1 L295.7 271.1 L296.8 270.1 L298.0 269.1 L299.1 268.1 L300.1 267.0 L301.2 265.9 L302.2 264.8 L303.3 263.6 L304.3 262.4 L305.3 261.2 L306.2 260.0 L307.2 258.7 L308.1 257.4 L309.0 256.1 L309.9 254.8 L310.7 253.4 L311.6 252.1 L312.5 250.8 L313.4 249.5 L314.3 248.2 L315.2 247.0 L316.1 245.8 L317.1 244.8 L318.1 243.7 L319.2 242.8 L320.2 242.0 L321.4 241.3 L322.6 240.7 L323.8 240.2 L325.1 239.9 L326.5 239.7 L327.8 239.7 L329.1 239.9 L330.4 240.3 L331.6 240.9 L332.8 241.7 L333.9 242.6 L334.9 243.6 L335.8 244.8 L336.7 246.0 L337.6 247.3 L338.4 248.7 L339.2 250.0 L339.9 251.4 L340.7 252.8 L341.4 254.1 L342.1 255.5 L342.8 256.8 L343.4 258.2 L344.1 259.5 L344.8 260.9 L345.5 262.3 L346.2 263.6 L347.0 264.9 L347.8 266.3 L348.5 267.6 L349.4 268.9 L350.2 270.2 L351.1 271.4 L352.0 272.6 L353.0 273.8 L354.0 274.9 L355.0 275.9 L356.1 276.9 L357.2 277.8 L358.4 278.6 L359.7 279.4 L360.9 280.1 L362.2 280.7 L363.6 281.3 L364.9 281.8 L366.3 282.3 L367.8 282.7 L369.2 283.1 L370.7 283.5 L372.1 283.8 L373.6 284.1 L375.1 284.4 L376.6 284.7 L378.0 285.0 L379.5 285.3 L381.0 285.6 L382.5 285.9 L384.0 286.1 L385.5 286.4 L387.0 286.6 L388.4 286.8 L389.9 287.1 L391.4 287.3 L392.9 287.5 L394.4 287.7 L395.9 287.9 L397.4 288.1 L398.8 288.3 L400.3 288.4 L401.8 288.6 L403.3 288.8 L404.8 289.0 L406.3 289.1 L407.8 289.3 L409.3 289.4 L410.7 289.6 L412.2 289.7 L413.7 289.8 L415.2 289.9 L416.7 290.1 L418.2 290.2 L419.7 290.3 L421.2 290.4 L422.7 290.5 L424.2 290.6 L425.6 290.7 L427.1 290.8 L428.6 290.9 L430.1 291.0 L431.6 291.1 L433.1 291.2 L434.6 291.3 L436.1 291.4 L437.6 291.5 L439.1 291.6 L440.6 291.6 L442.1 291.7 L443.6 291.8 L445.1 291.8 L446.6 291.9 L448.1 292.0 L449.6 292.0 L451.1 292.1 L452.6 292.1 L454.1 292.2 L455.6 292.2 L457.1 292.3 L458.6 292.3 L460.1 292.4 L461.5 292.4 L463.0 292.4 L464.5 292.5 L466.0 292.5 L467.5 292.5 L469.0 292.6 L470.5 292.6 L472.0 292.6 L473.5 292.6 L475.0 292.6 L476.5 292.6 L478.0 292.6 L479.5 292.6 L481.0 292.6 L482.5 292.6 L484.0 292.6 L485.5 292.6"/>
</g>
<rect x="37.0" y="16.9" width="448.1" height="348.6" fill="none" stroke="#262626" stroke-width="0.5"/>
<path d="M150.4 365.5V360.5M150.4 16.9V21.9M263.4 365.5V360.5M263.4 16.9V21.9M376.5 365.5V360.5M376.5 16.9V21.9M37.0 288.0H42.0M485.1 288.0H480.1M37.0 210.5H42.0M485.1 210.5H480.1M37.0 133.0H42.0M485.1 133.0H480.1M37.0 55.5H42.0M485.1 55.5H480.1" stroke="#262626" stroke-width="0.5" fill="none"/>
<text x="31.0" y="371.4" text-anchor="end" class="tk">0</text>
<text x="31.0" y="294.0" text-anchor="end" class="tk">1</text>
<text x="31.0" y="216.5" text-anchor="end" class="tk">2</text>
<text x="31.0" y="139.0" text-anchor="end" class="tk">3</text>
<text x="31.0" y="61.5" text-anchor="end" class="tk">4</text>
<text x="37.0" y="385.6" text-anchor="middle" class="tk">0</text>
<text x="150.4" y="385.6" text-anchor="middle" class="tk"><tspan class="pi">π</tspan><tspan dx="0.6">/4</tspan></text>
<text x="263.4" y="385.6" text-anchor="middle" class="tk"><tspan class="pi">π</tspan><tspan dx="0.6">/2</tspan></text>
<text x="376.5" y="385.6" text-anchor="middle" class="tk">3<tspan class="pi" dx="1.2">π</tspan><tspan dx="0.6">/4</tspan></text>
<text x="485.1" y="385.6" text-anchor="middle" class="tk"><tspan class="pi">π</tspan></text>
<text x="19.0" y="184.3" text-anchor="middle" class="lab" style="font-size:23.5px">h</text>
<text x="260.4" y="413.6" text-anchor="middle" class="lab" style="font-size:22.5px">θ</text>
<rect x="48.5" y="28.5" width="142.4" height="83" fill="#fff" stroke="#262626" stroke-width="0.45"/>
<path d="M52.7 43.1H93.1" stroke="#ff0000" stroke-width="2.4"/>
<text x="97.1" y="49.4" class="lg it" style="font-size:23px">δ</text>
<text x="113.3" y="49.5" class="lg" style="fill:#555" textLength="16.5" lengthAdjust="spacingAndGlyphs">=</text>
<text x="137.0" y="49.2" class="lg" style="font-size:23.8px" textLength="38.5" lengthAdjust="spacingAndGlyphs">0.05</text>
<path d="M52.7 70.1H93.1" stroke="#0000ff" stroke-width="2.4"/>
<text x="97.1" y="76.4" class="lg it" style="font-size:23px">δ</text>
<text x="113.3" y="76.5" class="lg" style="fill:#555" textLength="16.5" lengthAdjust="spacingAndGlyphs">=</text>
<text x="137.0" y="76.2" class="lg" style="font-size:23.8px" textLength="38.5" lengthAdjust="spacingAndGlyphs">0.01</text>
<path d="M52.7 97.1H93.1" stroke="#ff00ff" stroke-width="2.4"/>
<text x="97.1" y="103.4" class="lg it" style="font-size:23px">δ</text>
<text x="113.3" y="103.5" class="lg" style="fill:#555" textLength="16.5" lengthAdjust="spacingAndGlyphs">=</text>
<text x="137.0" y="103.2" class="lg" style="font-size:23.8px" textLength="49.5" lengthAdjust="spacingAndGlyphs">0.005</text>
<clipPath id="clipR"><rect x="532.1" y="16.9" width="448.1" height="348.6"/></clipPath>
<g clip-path="url(#clipR)" fill="none" stroke-width="2.6" stroke-linejoin="round">
<path stroke="#ff0000" d="M532.5 354.3 L534.0 354.3 L535.5 354.3 L537.0 354.3 L538.5 354.3 L540.0 354.2 L541.5 354.2 L543.0 354.1 L544.5 354.0 L546.0 354.0 L547.5 353.9 L549.0 353.8 L550.5 353.7 L552.0 353.5 L553.5 353.4 L555.0 353.3 L556.5 353.1 L558.0 353.0 L559.4 352.8 L560.9 352.6 L562.4 352.5 L563.9 352.3 L565.4 352.1 L566.9 351.9 L568.3 351.7 L569.8 351.4 L571.3 351.2 L572.8 351.0 L574.2 350.7 L575.7 350.5 L577.2 350.2 L578.7 350.0 L580.1 349.7 L581.6 349.4 L583.1 349.2 L584.5 348.9 L586.0 348.6 L587.5 348.3 L588.9 348.0 L590.4 347.7 L591.9 347.4 L593.3 347.1 L594.8 346.8 L596.3 346.4 L597.7 346.1 L599.2 345.8 L600.7 345.5 L602.1 345.1 L603.6 344.8 L605.0 344.4 L606.5 344.1 L608.0 343.8 L609.4 343.4 L610.9 343.1 L612.3 342.7 L613.8 342.3 L615.3 342.0 L616.7 341.6 L618.2 341.3 L619.6 340.9 L621.1 340.5 L622.5 340.2 L624.0 339.8 L625.4 339.4 L626.9 339.1 L628.4 338.7 L629.8 338.3 L631.3 337.9 L632.7 337.6 L634.2 337.2 L635.6 336.8 L637.1 336.5 L638.5 336.1 L640.0 335.7 L641.5 335.4 L642.9 335.0 L644.4 334.6 L645.8 334.3 L647.3 333.9 L648.7 333.6 L650.2 333.2 L651.7 332.9 L653.1 332.5 L654.6 332.2 L656.0 331.8 L657.5 331.5 L658.9 331.1 L660.4 330.8 L661.9 330.4 L663.3 330.1 L664.8 329.8 L666.2 329.4 L667.7 329.1 L669.1 328.8 L670.6 328.4 L672.1 328.1 L673.5 327.8 L675.0 327.5 L676.4 327.1 L677.9 326.8 L679.4 326.5 L680.8 326.1 L682.3 325.8 L683.7 325.5 L685.2 325.2 L686.7 324.8 L688.1 324.5 L689.6 324.2 L691.0 323.9 L692.5 323.5 L693.9 323.2 L695.4 322.9 L696.9 322.6 L698.3 322.2 L699.8 321.9 L701.2 321.6 L702.7 321.2 L704.2 320.9 L705.6 320.6 L707.1 320.2 L708.5 319.9 L710.0 319.6 L711.4 319.2 L712.9 318.9 L714.4 318.5 L715.8 318.2 L717.3 317.9 L718.7 317.5 L720.2 317.2 L721.6 316.8 L723.1 316.4 L724.5 316.1 L726.0 315.7 L727.4 315.4 L728.9 315.0 L730.4 314.6 L731.8 314.3 L733.3 313.9 L734.7 313.5 L736.2 313.1 L737.6 312.7 L739.1 312.4 L740.5 312.0 L742.0 311.6 L743.4 311.2 L744.9 310.8 L746.3 310.4 L747.8 310.0 L749.2 309.5 L750.7 309.1 L752.1 308.7 L753.5 308.3 L755.0 307.8 L756.4 307.4 L757.9 307.0 L759.3 306.6 L760.8 306.1 L762.2 305.7 L763.7 305.3 L765.1 304.9 L766.6 304.5 L768.0 304.1 L769.4 303.7 L770.9 303.3 L772.3 302.9 L773.8 302.6 L775.2 302.2 L776.7 301.9 L778.1 301.5 L779.6 301.2 L781.0 300.9 L782.5 300.6 L783.9 300.4 L785.4 300.1 L786.9 299.9 L788.3 299.7 L789.8 299.5 L791.2 299.3 L792.7 299.2 L794.2 299.0 L795.6 298.9 L797.1 298.8 L798.6 298.8 L800.0 298.7 L801.5 298.6 L803.0 298.6 L804.5 298.5 L806.0 298.4 L807.5 298.4 L809.0 298.3 L810.5 298.2 L812.1 298.2 L813.6 298.1 L815.2 298.0 L816.7 297.9 L818.3 297.7 L819.8 297.6 L821.4 297.3 L822.9 297.1 L824.4 296.7 L825.9 296.3 L827.3 295.9 L828.6 295.3 L829.9 294.6 L831.1 293.8 L832.2 293.0 L833.3 292.0 L834.4 291.0 L835.4 289.9 L836.3 288.8 L837.2 287.6 L838.1 286.4 L839.0 285.1 L839.8 283.9 L840.7 282.6 L841.5 281.3 L842.3 280.1 L843.1 278.8 L843.9 277.5 L844.7 276.2 L845.5 274.9 L846.3 273.6 L847.0 272.3 L847.8 271.0 L848.5 269.7 L849.3 268.4 L850.0 267.1 L850.7 265.8 L851.4 264.5 L852.1 263.1 L852.8 261.8 L853.5 260.5 L854.2 259.2 L854.8 257.8 L855.5 256.5 L856.2 255.2 L856.8 253.8 L857.5 252.5 L858.1 251.1 L858.7 249.8 L859.4 248.4 L860.0 247.1 L860.6 245.7 L861.2 244.3 L861.8 243.0 L862.4 241.6 L863.0 240.2 L863.6 238.9 L864.2 237.5 L864.7 236.1 L865.3 234.7 L865.9 233.4 L866.4 232.0 L867.0 230.6 L867.6 229.2 L868.1 227.8 L868.7 226.4 L869.2 225.1 L869.8 223.7 L870.3 222.3 L870.8 220.9 L871.4 219.5 L871.9 218.1 L872.4 216.7 L873.0 215.3 L873.5 213.9 L874.0 212.5 L874.5 211.1 L875.0 209.7 L875.6 208.3 L876.1 206.9 L876.6 205.5 L877.1 204.1 L877.6 202.7 L878.1 201.3 L878.7 199.9 L879.2 198.5 L879.7 197.1 L880.2 195.7 L880.7 194.3 L881.2 192.9 L881.7 191.4 L882.2 190.0 L882.8 188.6 L883.3 187.2 L883.8 185.8 L884.3 184.4 L884.8 183.0 L885.4 181.6 L885.9 180.2 L886.4 178.8 L886.9 177.4 L887.5 176.0 L888.0 174.6 L888.5 173.2 L889.1 171.8 L889.6 170.4 L890.1 169.0 L890.7 167.6 L891.2 166.2 L891.8 164.8 L892.3 163.4 L892.9 162.0 L893.5 160.6 L894.0 159.3 L894.6 157.9 L895.2 156.5 L895.8 155.1 L896.4 153.7 L897.0 152.3 L897.6 151.0 L898.2 149.6 L898.8 148.2 L899.4 146.8 L900.0 145.5 L900.6 144.1 L901.2 142.7 L901.9 141.4 L902.5 140.0 L903.2 138.6 L903.8 137.3 L904.5 135.9 L905.2 134.6 L905.9 133.2 L906.5 131.9 L907.2 130.5 L907.9 129.2 L908.6 127.9 L909.4 126.5 L910.1 125.2 L910.8 123.9 L911.6 122.5 L912.3 121.2 L913.1 119.9 L913.8 118.6 L914.6 117.3 L915.4 116.0 L916.2 114.7 L917.0 113.4 L917.8 112.1 L918.7 110.9 L919.5 109.6 L920.4 108.4 L921.3 107.2 L922.2 106.0 L923.1 104.8 L924.0 103.6 L925.0 102.4 L925.9 101.3 L926.9 100.2 L927.9 99.1 L928.9 98.0 L929.9 97.0 L931.0 96.0 L932.0 95.0 L933.1 94.0 L934.2 93.0 L935.4 92.1 L936.5 91.2 L937.7 90.3 L938.9 89.5 L940.1 88.7 L941.3 87.9 L942.6 87.2 L943.9 86.5 L945.2 85.8 L946.5 85.2 L947.9 84.6 L949.3 84.0 L950.7 83.5 L952.1 83.0 L953.6 82.6 L955.1 82.1 L956.6 81.8 L958.0 81.4 L959.6 81.1 L961.1 80.8 L962.6 80.6 L964.1 80.3 L965.6 80.1 L967.2 80.0 L968.7 79.9 L970.2 79.8 L971.7 79.7 L973.2 79.6 L974.7 79.6 L976.2 79.6 L977.6 79.7 L979.1 79.7 L980.5 79.8"/>
<path stroke="#0000ff" d="M532.5 323.1 L534.0 323.0 L535.5 323.0 L537.0 322.9 L538.5 322.8 L540.0 322.7 L541.5 322.6 L543.0 322.5 L544.5 322.4 L546.0 322.2 L547.5 322.1 L549.0 321.9 L550.5 321.8 L551.9 321.6 L553.4 321.4 L554.9 321.2 L556.4 321.0 L557.9 320.8 L559.4 320.6 L560.8 320.4 L562.3 320.2 L563.8 319.9 L565.3 319.7 L566.7 319.4 L568.2 319.2 L569.7 318.9 L571.1 318.7 L572.6 318.4 L574.1 318.1 L575.5 317.8 L577.0 317.6 L578.5 317.3 L579.9 317.0 L581.4 316.7 L582.9 316.4 L584.3 316.1 L585.8 315.8 L587.2 315.4 L588.7 315.1 L590.2 314.8 L591.6 314.5 L593.1 314.2 L594.5 313.8 L596.0 313.5 L597.5 313.2 L598.9 312.8 L600.4 312.5 L601.8 312.1 L603.3 311.8 L604.7 311.5 L606.2 311.1 L607.7 310.8 L609.1 310.4 L610.6 310.1 L612.0 309.8 L613.5 309.4 L614.9 309.1 L616.4 308.7 L617.9 308.4 L619.3 308.1 L620.8 307.7 L622.2 307.4 L623.7 307.1 L625.2 306.7 L626.6 306.4 L628.1 306.1 L629.5 305.8 L631.0 305.4 L632.5 305.1 L633.9 304.8 L635.4 304.5 L636.9 304.2 L638.3 303.9 L639.8 303.6 L641.3 303.3 L642.7 303.0 L644.2 302.7 L645.7 302.4 L647.1 302.1 L648.6 301.8 L650.1 301.5 L651.5 301.3 L653.0 301.0 L654.5 300.7 L656.0 300.4 L657.4 300.2 L658.9 299.9 L660.4 299.6 L661.9 299.4 L663.3 299.1 L664.8 298.9 L666.3 298.6 L667.8 298.4 L669.2 298.1 L670.7 297.9 L672.2 297.6 L673.7 297.4 L675.1 297.1 L676.6 296.9 L678.1 296.7 L679.6 296.4 L681.1 296.2 L682.5 296.0 L684.0 295.8 L685.5 295.5 L687.0 295.3 L688.5 295.1 L690.0 294.9 L691.4 294.7 L692.9 294.5 L694.4 294.3 L695.9 294.1 L697.4 293.8 L698.9 293.6 L700.3 293.4 L701.8 293.2 L703.3 293.1 L704.8 292.9 L706.3 292.7 L707.8 292.5 L709.3 292.3 L710.7 292.1 L712.2 291.9 L713.7 291.7 L715.2 291.6 L716.7 291.4 L718.2 291.2 L719.7 291.0 L721.1 290.9 L722.6 290.7 L724.1 290.5 L725.6 290.4 L727.1 290.2 L728.6 290.0 L730.1 289.9 L731.6 289.7 L733.1 289.6 L734.5 289.4 L736.0 289.3 L737.5 289.1 L739.0 289.0 L740.5 288.8 L742.0 288.7 L743.5 288.5 L745.0 288.4 L746.5 288.2 L747.9 288.1 L749.4 288.0 L750.9 287.8 L752.4 287.7 L753.9 287.6 L755.4 287.4 L756.9 287.3 L758.4 287.2 L759.9 287.1 L761.3 286.9 L762.8 286.8 L764.3 286.7 L765.8 286.6 L767.3 286.4 L768.8 286.3 L770.3 286.2 L771.8 286.1 L773.3 286.0 L774.7 285.9 L776.2 285.8 L777.7 285.6 L779.2 285.5 L780.7 285.4 L782.2 285.3 L783.7 285.2 L785.2 285.1 L786.7 285.0 L788.1 284.9 L789.6 284.8 L791.1 284.7 L792.6 284.6 L794.1 284.5 L795.6 284.4 L797.1 284.3 L798.5 284.2 L800.0 284.1 L801.5 284.0 L803.0 283.9 L804.5 283.8 L806.0 283.8 L807.5 283.7 L808.9 283.6 L810.4 283.5 L811.9 283.4 L813.4 283.3 L814.9 283.2 L816.4 283.1 L817.9 283.0 L819.3 282.9 L820.8 282.8 L822.3 282.7 L823.8 282.6 L825.3 282.4 L826.8 282.3 L828.3 282.2 L829.7 282.1 L831.2 282.0 L832.7 281.9 L834.2 281.7 L835.7 281.6 L837.2 281.5 L838.7 281.3 L840.1 281.2 L841.6 281.1 L843.1 280.9 L844.6 280.8 L846.1 280.6 L847.6 280.5 L849.1 280.3 L850.6 280.1 L852.1 280.0 L853.5 279.8 L855.0 279.6 L856.5 279.4 L858.0 279.2 L859.5 279.0 L861.0 278.8 L862.5 278.6 L864.0 278.4 L865.5 278.2 L867.0 278.0 L868.5 277.8 L870.0 277.5 L871.5 277.3 L873.0 277.0 L874.5 276.8 L876.0 276.5 L877.5 276.2 L879.0 276.0 L880.5 275.7 L882.0 275.4 L883.5 275.1 L885.0 274.8 L886.5 274.5 L888.0 274.1 L889.5 273.8 L891.0 273.5 L892.5 273.1 L893.9 272.8 L895.4 272.4 L896.9 272.0 L898.4 271.6 L899.9 271.2 L901.3 270.7 L902.8 270.3 L904.2 269.8 L905.7 269.4 L907.1 268.9 L908.5 268.4 L909.9 267.8 L911.3 267.3 L912.7 266.7 L914.1 266.1 L915.4 265.5 L916.7 264.9 L918.1 264.3 L919.4 263.6 L920.6 262.9 L921.9 262.2 L923.2 261.4 L924.4 260.7 L925.6 259.9 L926.8 259.0 L927.9 258.2 L929.1 257.3 L930.2 256.4 L931.3 255.5 L932.3 254.5 L933.4 253.6 L934.4 252.6 L935.4 251.5 L936.4 250.5 L937.3 249.4 L938.3 248.3 L939.2 247.1 L940.1 246.0 L940.9 244.8 L941.8 243.6 L942.6 242.4 L943.4 241.2 L944.2 239.9 L945.0 238.6 L945.7 237.3 L946.4 236.0 L947.2 234.7 L947.8 233.4 L948.5 232.0 L949.2 230.7 L949.8 229.3 L950.5 227.9 L951.1 226.5 L951.7 225.1 L952.2 223.7 L952.8 222.3 L953.4 220.8 L953.9 219.4 L954.4 218.0 L954.9 216.5 L955.4 215.0 L955.9 213.6 L956.4 212.1 L956.8 210.6 L957.3 209.2 L957.7 207.7 L958.2 206.2 L958.6 204.8 L959.0 203.3 L959.4 201.8 L959.8 200.3 L960.2 198.9 L960.6 197.4 L960.9 195.9 L961.3 194.5 L961.7 193.0 L962.1 191.5 L962.4 190.1 L962.8 188.6 L963.2 187.2 L963.6 185.7 L964.0 184.3 L964.4 182.8 L964.8 181.4 L965.2 180.0 L965.6 178.5 L966.1 177.1 L966.5 175.7 L967.0 174.3 L967.4 172.9 L967.9 171.5 L968.4 170.1 L968.9 168.7 L969.5 167.4 L970.0 166.0 L970.6 164.7 L971.2 163.3 L971.8 162.0 L972.5 160.7 L973.2 159.3 L973.9 158.0 L974.6 156.7 L975.3 155.5 L976.1 154.2 L976.9 152.9 L977.8 151.7 L978.6 150.4 L979.6 149.2 L980.5 148.0"/>
<path stroke="#ff00ff" d="M532.5 313.1 L534.0 313.0 L535.5 312.8 L537.0 312.7 L538.4 312.5 L539.9 312.4 L541.4 312.2 L542.9 312.0 L544.4 311.9 L545.9 311.7 L547.4 311.5 L548.8 311.3 L550.3 311.1 L551.8 310.9 L553.3 310.7 L554.8 310.5 L556.2 310.3 L557.7 310.1 L559.2 309.9 L560.7 309.7 L562.2 309.5 L563.6 309.2 L565.1 309.0 L566.6 308.8 L568.1 308.6 L569.6 308.3 L571.0 308.1 L572.5 307.9 L574.0 307.6 L575.5 307.4 L577.0 307.1 L578.4 306.9 L579.9 306.7 L581.4 306.4 L582.9 306.2 L584.3 305.9 L585.8 305.7 L587.3 305.4 L588.8 305.2 L590.2 304.9 L591.7 304.7 L593.2 304.4 L594.7 304.1 L596.2 303.9 L597.6 303.6 L599.1 303.4 L600.6 303.1 L602.1 302.9 L603.5 302.6 L605.0 302.4 L606.5 302.1 L608.0 301.9 L609.4 301.6 L610.9 301.4 L612.4 301.1 L613.9 300.9 L615.3 300.6 L616.8 300.4 L618.3 300.1 L619.8 299.9 L621.3 299.7 L622.7 299.4 L624.2 299.2 L625.7 299.0 L627.2 298.7 L628.6 298.5 L630.1 298.3 L631.6 298.0 L633.1 297.8 L634.6 297.6 L636.0 297.4 L637.5 297.2 L639.0 296.9 L640.5 296.7 L642.0 296.5 L643.4 296.3 L644.9 296.1 L646.4 295.9 L647.9 295.7 L649.4 295.5 L650.8 295.3 L652.3 295.1 L653.8 294.9 L655.3 294.7 L656.8 294.5 L658.3 294.3 L659.7 294.1 L661.2 293.9 L662.7 293.7 L664.2 293.5 L665.7 293.3 L667.1 293.2 L668.6 293.0 L670.1 292.8 L671.6 292.6 L673.1 292.5 L674.6 292.3 L676.1 292.1 L677.5 292.0 L679.0 291.8 L680.5 291.6 L682.0 291.5 L683.5 291.3 L685.0 291.2 L686.5 291.0 L687.9 290.9 L689.4 290.7 L690.9 290.6 L692.4 290.4 L693.9 290.3 L695.4 290.1 L696.9 290.0 L698.4 289.9 L699.8 289.7 L701.3 289.6 L702.8 289.5 L704.3 289.4 L705.8 289.2 L707.3 289.1 L708.8 289.0 L710.3 288.9 L711.8 288.8 L713.3 288.7 L714.8 288.5 L716.2 288.4 L717.7 288.3 L719.2 288.2 L720.7 288.1 L722.2 288.0 L723.7 287.9 L725.2 287.8 L726.7 287.8 L728.2 287.7 L729.7 287.6 L731.2 287.5 L732.7 287.4 L734.2 287.3 L735.7 287.3 L737.2 287.2 L738.7 287.1 L740.2 287.0 L741.7 287.0 L743.2 286.9 L744.7 286.8 L746.2 286.8 L747.7 286.7 L749.2 286.7 L750.7 286.6 L752.2 286.6 L753.6 286.5 L755.1 286.4 L756.6 286.4 L758.1 286.3 L759.6 286.3 L761.1 286.2 L762.6 286.2 L764.1 286.1 L765.6 286.1 L767.1 286.1 L768.6 286.0 L770.1 286.0 L771.6 285.9 L773.1 285.9 L774.6 285.9 L776.1 285.8 L777.7 285.8 L779.2 285.7 L780.7 285.7 L782.2 285.7 L783.7 285.6 L785.2 285.6 L786.7 285.6 L788.2 285.5 L789.7 285.5 L791.2 285.4 L792.7 285.4 L794.2 285.4 L795.7 285.3 L797.2 285.3 L798.7 285.3 L800.2 285.2 L801.7 285.2 L803.2 285.2 L804.7 285.1 L806.2 285.1 L807.7 285.0 L809.2 285.0 L810.7 285.0 L812.2 284.9 L813.7 284.9 L815.2 284.8 L816.7 284.8 L818.2 284.7 L819.7 284.7 L821.2 284.7 L822.7 284.6 L824.2 284.6 L825.7 284.5 L827.2 284.5 L828.7 284.4 L830.2 284.4 L831.7 284.3 L833.2 284.3 L834.6 284.2 L836.1 284.1 L837.6 284.1 L839.1 284.0 L840.6 284.0 L842.1 283.9 L843.6 283.8 L845.1 283.7 L846.6 283.7 L848.1 283.6 L849.6 283.5 L851.1 283.5 L852.6 283.4 L854.1 283.3 L855.6 283.2 L857.1 283.1 L858.6 283.0 L860.1 282.9 L861.6 282.8 L863.0 282.8 L864.5 282.7 L866.0 282.6 L867.5 282.5 L869.0 282.3 L870.5 282.2 L872.0 282.1 L873.5 282.0 L875.0 281.9 L876.5 281.8 L877.9 281.6 L879.4 281.5 L880.9 281.4 L882.4 281.3 L883.9 281.1 L885.4 281.0 L886.9 280.8 L888.3 280.7 L889.8 280.5 L891.3 280.4 L892.8 280.2 L894.3 280.1 L895.8 279.9 L897.2 279.7 L898.7 279.5 L900.2 279.4 L901.7 279.2 L903.2 279.0 L904.6 278.8 L906.1 278.6 L907.6 278.4 L909.1 278.2 L910.5 278.0 L912.0 277.8 L913.5 277.6 L915.0 277.4 L916.4 277.1 L917.9 276.9 L919.4 276.7 L920.8 276.4 L922.3 276.2 L923.8 276.0 L925.3 275.7 L926.7 275.4 L928.2 275.2 L929.7 274.9 L931.1 274.6 L932.6 274.4 L934.1 274.1 L935.5 273.8 L937.0 273.5 L938.4 273.2 L939.9 272.9 L941.4 272.6 L942.8 272.3 L944.3 272.0 L945.8 271.6 L947.2 271.3 L948.7 271.0 L950.1 270.6 L951.6 270.3 L953.0 269.9 L954.5 269.6 L955.9 269.2 L957.4 268.8 L958.8 268.4 L960.3 268.1 L961.7 267.7 L963.2 267.3 L964.6 266.9 L966.1 266.5 L967.5 266.0 L969.0 265.6 L970.4 265.2 L971.9 264.7 L973.3 264.3 L974.7 263.9 L976.2 263.4 L977.6 262.9 L979.1 262.5 L980.5 262.0"/>
<path stroke="#000" stroke-dasharray="7.7 8.67" d="M532.5 354.3 L534.0 354.3 L535.5 354.2 L537.0 354.2 L538.5 354.1 L540.0 354.1 L541.5 354.0 L543.0 353.9 L544.5 353.8 L546.0 353.7 L547.5 353.6 L549.0 353.5 L550.5 353.4 L551.9 353.2 L553.4 353.1 L554.9 353.0 L556.4 352.8 L557.9 352.7 L559.4 352.5 L560.9 352.3 L562.4 352.1 L563.8 352.0 L565.3 351.8 L566.8 351.6 L568.3 351.4 L569.8 351.2 L571.2 351.0 L572.7 350.7 L574.2 350.5 L575.7 350.3 L577.2 350.0 L578.6 349.8 L580.1 349.6 L581.6 349.3 L583.1 349.0 L584.5 348.8 L586.0 348.5 L587.5 348.2 L588.9 348.0 L590.4 347.7 L591.9 347.4 L593.3 347.1 L594.8 346.8 L596.3 346.5 L597.8 346.2 L599.2 345.9 L600.7 345.6 L602.2 345.3 L603.6 345.0 L605.1 344.6 L606.5 344.3 L608.0 344.0 L609.5 343.6 L610.9 343.3 L612.4 343.0 L613.9 342.6 L615.3 342.3 L616.8 341.9 L618.2 341.6 L619.7 341.2 L621.2 340.9 L622.6 340.5 L624.1 340.2 L625.5 339.8 L627.0 339.4 L628.4 339.1 L629.9 338.7 L631.4 338.3 L632.8 338.0 L634.3 337.6 L635.7 337.2 L637.2 336.9 L638.6 336.5 L640.1 336.1 L641.5 335.7 L643.0 335.4 L644.4 335.0 L645.9 334.6 L647.3 334.2 L648.8 333.8 L650.2 333.5 L651.7 333.1 L653.1 332.7 L654.6 332.3 L656.0 331.9 L657.5 331.6 L658.9 331.2 L660.4 330.8 L661.8 330.4 L663.3 330.1 L664.7 329.7 L666.2 329.3 L667.6 328.9 L669.1 328.6 L670.6 328.2 L672.0 327.8 L673.5 327.5 L674.9 327.1 L676.4 326.8 L677.8 326.4 L679.3 326.1 L680.7 325.7 L682.2 325.4 L683.6 325.0 L685.1 324.7 L686.5 324.4 L688.0 324.0 L689.5 323.7 L690.9 323.4 L692.4 323.1 L693.8 322.8 L695.3 322.4 L696.8 322.1 L698.2 321.8 L699.7 321.5 L701.2 321.3 L702.6 321.0 L704.1 320.7 L705.6 320.4 L707.0 320.1 L708.5 319.8 L710.0 319.5 L711.4 319.2 L712.9 318.9 L714.4 318.6 L715.8 318.3 L717.3 318.0 L718.8 317.7 L720.2 317.4 L721.7 317.1 L723.1 316.7 L724.6 316.4 L726.1 316.1 L727.5 315.7 L729.0 315.4 L730.4 315.0 L731.9 314.7 L733.4 314.3 L734.8 313.9 L736.3 313.5 L737.7 313.1 L739.2 312.7 L740.6 312.3 L742.0 311.9 L743.5 311.4 L744.9 311.0 L746.4 310.5 L747.8 310.1 L749.2 309.6 L750.7 309.1 L752.1 308.7 L753.6 308.2 L755.0 307.8 L756.4 307.3 L757.9 306.9 L759.3 306.4 L760.7 306.0 L762.2 305.5 L763.6 305.1 L765.1 304.7 L766.5 304.3 L767.9 303.9 L769.4 303.5 L770.8 303.1 L772.3 302.8 L773.7 302.4 L775.1 302.1 L776.6 301.8 L778.0 301.5 L779.5 301.2 L780.9 301.0 L782.4 300.8 L783.9 300.6 L785.3 300.4 L786.8 300.2 L788.2 300.0 L789.7 299.9 L791.2 299.7 L792.7 299.6 L794.1 299.5 L795.6 299.4 L797.1 299.2 L798.6 299.1 L800.1 299.0 L801.6 298.9 L803.2 298.8 L804.7 298.7 L806.2 298.6 L807.7 298.5 L809.3 298.4 L810.8 298.3 L812.3 298.1 L813.9 298.0 L815.4 297.8 L816.9 297.6 L818.3 297.3 L819.8 297.0 L821.3 296.7 L822.7 296.4 L824.1 296.0 L825.5 295.5 L826.8 295.0 L828.1 294.5 L829.4 293.9 L830.7 293.3 L831.9 292.5 L833.0 291.8 L834.2 290.9 L835.2 290.0 L836.3 289.0 L837.3 287.9 L838.2 286.8 L839.2 285.7 L840.0 284.4 L840.9 283.2 L841.7 281.9 L842.5 280.6 L843.2 279.2 L844.0 277.8 L844.7 276.4 L845.4 275.0 L846.1 273.6 L846.7 272.1 L847.4 270.7 L848.0 269.3 L848.7 267.9 L849.3 266.5 L849.9 265.1 L850.5 263.7 L851.1 262.3 L851.7 260.9 L852.3 259.6 L852.9 258.2 L853.5 256.8 L854.1 255.5 L854.6 254.1 L855.2 252.7 L855.8 251.4 L856.3 250.0 L856.9 248.6 L857.4 247.2 L858.0 245.9 L858.5 244.5 L859.1 243.1 L859.6 241.7 L860.2 240.3 L860.7 238.9 L861.2 237.5 L861.7 236.1 L862.3 234.7 L862.8 233.3 L863.3 231.9 L863.8 230.5 L864.3 229.1 L864.8 227.6 L865.3 226.2 L865.8 224.8 L866.3 223.4 L866.8 222.0 L867.3 220.6 L867.8 219.2 L868.3 217.8 L868.8 216.3 L869.3 214.9 L869.7 213.5 L870.2 212.1 L870.7 210.7 L871.2 209.3 L871.6 207.8 L872.1 206.4 L872.6 205.0 L873.1 203.6 L873.5 202.2 L874.0 200.8 L874.5 199.4 L874.9 197.9 L875.4 196.5 L875.9 195.1 L876.3 193.7 L876.8 192.3 L877.3 190.9 L877.8 189.4 L878.2 188.0 L878.7 186.6 L879.2 185.2 L879.6 183.8 L880.1 182.4 L880.6 181.0 L881.1 179.5 L881.6 178.1 L882.1 176.7 L882.5 175.3 L883.0 173.9 L883.5 172.5 L884.0 171.1 L884.5 169.6 L885.0 168.2 L885.5 166.8 L886.0 165.4 L886.6 164.0 L887.1 162.6 L887.6 161.2 L888.1 159.8 L888.6 158.3 L889.2 156.9 L889.7 155.5 L890.3 154.1 L890.8 152.7 L891.4 151.3 L891.9 149.9 L892.5 148.5 L893.1 147.1 L893.7 145.7 L894.2 144.3 L894.8 142.9 L895.4 141.6 L896.0 140.2 L896.7 138.8 L897.3 137.4 L897.9 136.1 L898.6 134.7 L899.2 133.3 L899.9 132.0 L900.5 130.6 L901.2 129.3 L901.9 127.9 L902.6 126.6 L903.3 125.3 L904.0 124.0 L904.7 122.7 L905.4 121.4 L906.2 120.1 L906.9 118.8 L907.7 117.5 L908.5 116.2 L909.3 114.9 L910.1 113.7 L910.9 112.4 L911.7 111.2 L912.5 110.0 L913.4 108.7 L914.2 107.5 L915.1 106.3 L916.0 105.1 L916.9 104.0 L917.8 102.8 L918.7 101.6 L919.7 100.5 L920.6 99.3 L921.6 98.2 L922.6 97.1 L923.6 96.0 L924.6 94.9 L925.6 93.8 L926.6 92.8 L927.7 91.7 L928.8 90.7 L929.9 89.7 L931.0 88.6 L932.1 87.6 L933.2 86.7 L934.4 85.7 L935.6 84.7 L936.7 83.8 L937.9 82.9 L939.2 82.0 L940.4 81.1 L941.6 80.2 L942.9 79.4 L944.1 78.6 L945.4 77.8 L946.7 77.0 L948.0 76.2 L949.3 75.5 L950.6 74.7 L952.0 74.0 L953.3 73.4 L954.7 72.7 L956.0 72.1 L957.4 71.5 L958.8 70.9 L960.2 70.3 L961.6 69.8 L963.0 69.3 L964.4 68.8 L965.9 68.3 L967.3 67.9 L968.7 67.5 L970.2 67.2 L971.6 66.8 L973.1 66.5 L974.6 66.2 L976.0 66.0 L977.5 65.7 L979.0 65.6 L980.5 65.4"/>
<path stroke="#000" stroke-dasharray="7.7 8.67" d="M532.5 323.1 L534.0 323.0 L535.5 323.0 L537.0 322.9 L538.5 322.8 L540.0 322.7 L541.5 322.6 L543.0 322.5 L544.5 322.4 L546.0 322.2 L547.5 322.1 L549.0 321.9 L550.5 321.8 L552.0 321.6 L553.4 321.4 L554.9 321.2 L556.4 321.0 L557.9 320.8 L559.4 320.6 L560.8 320.4 L562.3 320.2 L563.8 319.9 L565.3 319.7 L566.7 319.5 L568.2 319.2 L569.7 318.9 L571.2 318.7 L572.6 318.4 L574.1 318.1 L575.6 317.8 L577.0 317.6 L578.5 317.3 L580.0 317.0 L581.4 316.7 L582.9 316.4 L584.3 316.1 L585.8 315.8 L587.3 315.4 L588.7 315.1 L590.2 314.8 L591.7 314.5 L593.1 314.1 L594.6 313.8 L596.0 313.5 L597.5 313.2 L598.9 312.8 L600.4 312.5 L601.9 312.1 L603.3 311.8 L604.8 311.5 L606.2 311.1 L607.7 310.8 L609.2 310.4 L610.6 310.1 L612.1 309.8 L613.5 309.4 L615.0 309.1 L616.4 308.7 L617.9 308.4 L619.4 308.1 L620.8 307.7 L622.3 307.4 L623.7 307.1 L625.2 306.7 L626.7 306.4 L628.1 306.1 L629.6 305.7 L631.1 305.4 L632.5 305.1 L634.0 304.8 L635.4 304.5 L636.9 304.2 L638.4 303.9 L639.8 303.6 L641.3 303.3 L642.8 303.0 L644.3 302.7 L645.7 302.4 L647.2 302.1 L648.7 301.8 L650.1 301.5 L651.6 301.3 L653.1 301.0 L654.6 300.7 L656.0 300.4 L657.5 300.2 L659.0 299.9 L660.4 299.6 L661.9 299.4 L663.4 299.1 L664.9 298.9 L666.4 298.6 L667.8 298.3 L669.3 298.1 L670.8 297.9 L672.3 297.6 L673.7 297.4 L675.2 297.1 L676.7 296.9 L678.2 296.7 L679.7 296.4 L681.1 296.2 L682.6 296.0 L684.1 295.8 L685.6 295.5 L687.1 295.3 L688.6 295.1 L690.0 294.9 L691.5 294.7 L693.0 294.5 L694.5 294.2 L696.0 294.0 L697.5 293.8 L698.9 293.6 L700.4 293.4 L701.9 293.2 L703.4 293.0 L704.9 292.9 L706.4 292.7 L707.9 292.5 L709.3 292.3 L710.8 292.1 L712.3 291.9 L713.8 291.7 L715.3 291.6 L716.8 291.4 L718.3 291.2 L719.8 291.0 L721.2 290.9 L722.7 290.7 L724.2 290.5 L725.7 290.4 L727.2 290.2 L728.7 290.0 L730.2 289.9 L731.7 289.7 L733.2 289.6 L734.6 289.4 L736.1 289.3 L737.6 289.1 L739.1 289.0 L740.6 288.8 L742.1 288.7 L743.6 288.5 L745.1 288.4 L746.6 288.2 L748.1 288.1 L749.5 288.0 L751.0 287.8 L752.5 287.7 L754.0 287.6 L755.5 287.4 L757.0 287.3 L758.5 287.2 L760.0 287.0 L761.5 286.9 L763.0 286.8 L764.4 286.7 L765.9 286.6 L767.4 286.4 L768.9 286.3 L770.4 286.2 L771.9 286.1 L773.4 286.0 L774.9 285.9 L776.4 285.8 L777.8 285.6 L779.3 285.5 L780.8 285.4 L782.3 285.3 L783.8 285.2 L785.3 285.1 L786.8 285.0 L788.3 284.9 L789.8 284.8 L791.2 284.7 L792.7 284.6 L794.2 284.5 L795.7 284.4 L797.2 284.3 L798.7 284.2 L800.2 284.1 L801.7 284.0 L803.1 283.9 L804.6 283.8 L806.1 283.7 L807.6 283.6 L809.1 283.6 L810.6 283.5 L812.1 283.4 L813.5 283.3 L815.0 283.2 L816.5 283.1 L818.0 283.0 L819.5 282.9 L821.0 282.8 L822.5 282.6 L823.9 282.5 L825.4 282.4 L826.9 282.3 L828.4 282.2 L829.9 282.1 L831.4 282.0 L832.9 281.8 L834.4 281.7 L835.8 281.6 L837.3 281.5 L838.8 281.3 L840.3 281.2 L841.8 281.0 L843.3 280.9 L844.8 280.7 L846.3 280.6 L847.8 280.4 L849.2 280.3 L850.7 280.1 L852.2 279.9 L853.7 279.8 L855.2 279.6 L856.7 279.4 L858.2 279.2 L859.7 279.0 L861.2 278.8 L862.7 278.6 L864.2 278.4 L865.7 278.2 L867.1 277.9 L868.6 277.7 L870.1 277.5 L871.6 277.2 L873.1 277.0 L874.6 276.7 L876.1 276.5 L877.6 276.2 L879.1 275.9 L880.6 275.6 L882.1 275.3 L883.6 275.0 L885.1 274.7 L886.6 274.4 L888.1 274.1 L889.6 273.8 L891.1 273.4 L892.6 273.1 L894.1 272.7 L895.6 272.3 L897.1 271.9 L898.6 271.5 L900.0 271.1 L901.5 270.7 L902.9 270.2 L904.4 269.8 L905.8 269.3 L907.3 268.8 L908.7 268.3 L910.1 267.8 L911.5 267.2 L912.8 266.7 L914.2 266.1 L915.6 265.5 L916.9 264.8 L918.2 264.2 L919.5 263.5 L920.8 262.8 L922.1 262.1 L923.3 261.3 L924.5 260.6 L925.7 259.8 L926.9 259.0 L928.1 258.1 L929.2 257.2 L930.3 256.3 L931.4 255.4 L932.5 254.4 L933.6 253.5 L934.6 252.4 L935.6 251.4 L936.6 250.3 L937.5 249.3 L938.4 248.1 L939.4 247.0 L940.2 245.9 L941.1 244.7 L942.0 243.5 L942.8 242.3 L943.6 241.0 L944.4 239.8 L945.2 238.5 L946.0 237.2 L946.7 235.9 L947.4 234.6 L948.1 233.3 L948.8 231.9 L949.5 230.6 L950.2 229.2 L950.8 227.8 L951.5 226.5 L952.1 225.1 L952.7 223.6 L953.3 222.2 L953.9 220.8 L954.4 219.4 L955.0 217.9 L955.5 216.5 L956.1 215.1 L956.6 213.6 L957.1 212.2 L957.6 210.7 L958.1 209.3 L958.6 207.8 L959.1 206.4 L959.5 204.9 L960.0 203.5 L960.5 202.0 L960.9 200.6 L961.4 199.1 L961.8 197.7 L962.3 196.2 L962.7 194.8 L963.1 193.4 L963.6 191.9 L964.0 190.5 L964.5 189.1 L964.9 187.6 L965.4 186.2 L965.9 184.8 L966.3 183.4 L966.8 182.0 L967.3 180.6 L967.8 179.2 L968.3 177.8 L968.8 176.4 L969.4 175.0 L969.9 173.7 L970.5 172.3 L971.1 170.9 L971.7 169.6 L972.3 168.2 L972.9 166.9 L973.6 165.6 L974.3 164.3 L974.9 162.9 L975.7 161.6 L976.4 160.3 L977.2 159.1 L978.0 157.8 L978.8 156.5 L979.6 155.2 L980.5 154.0"/>
<path stroke="#000" stroke-dasharray="7.7 8.67" d="M532.5 313.1 L534.0 313.0 L535.5 312.8 L537.0 312.7 L538.4 312.5 L539.9 312.4 L541.4 312.2 L542.9 312.0 L544.4 311.9 L545.9 311.7 L547.4 311.5 L548.8 311.3 L550.3 311.1 L551.8 310.9 L553.3 310.7 L554.8 310.5 L556.2 310.3 L557.7 310.1 L559.2 309.9 L560.7 309.7 L562.2 309.5 L563.6 309.2 L565.1 309.0 L566.6 308.8 L568.1 308.6 L569.6 308.3 L571.0 308.1 L572.5 307.9 L574.0 307.6 L575.5 307.4 L577.0 307.1 L578.4 306.9 L579.9 306.7 L581.4 306.4 L582.9 306.2 L584.3 305.9 L585.8 305.7 L587.3 305.4 L588.8 305.2 L590.2 304.9 L591.7 304.7 L593.2 304.4 L594.7 304.1 L596.2 303.9 L597.6 303.6 L599.1 303.4 L600.6 303.1 L602.1 302.9 L603.5 302.6 L605.0 302.4 L606.5 302.1 L608.0 301.9 L609.4 301.6 L610.9 301.4 L612.4 301.1 L613.9 300.9 L615.3 300.6 L616.8 300.4 L618.3 300.1 L619.8 299.9 L621.3 299.7 L622.7 299.4 L624.2 299.2 L625.7 299.0 L627.2 298.7 L628.6 298.5 L630.1 298.3 L631.6 298.0 L633.1 297.8 L634.6 297.6 L636.0 297.4 L637.5 297.2 L639.0 296.9 L640.5 296.7 L642.0 296.5 L643.4 296.3 L644.9 296.1 L646.4 295.9 L647.9 295.7 L649.4 295.5 L650.8 295.3 L652.3 295.1 L653.8 294.9 L655.3 294.7 L656.8 294.5 L658.3 294.3 L659.7 294.1 L661.2 293.9 L662.7 293.7 L664.2 293.5 L665.7 293.3 L667.1 293.2 L668.6 293.0 L670.1 292.8 L671.6 292.6 L673.1 292.5 L674.6 292.3 L676.1 292.1 L677.5 292.0 L679.0 291.8 L680.5 291.6 L682.0 291.5 L683.5 291.3 L685.0 291.2 L686.5 291.0 L687.9 290.9 L689.4 290.7 L690.9 290.6 L692.4 290.4 L693.9 290.3 L695.4 290.1 L696.9 290.0 L698.4 289.9 L699.8 289.7 L701.3 289.6 L702.8 289.5 L704.3 289.4 L705.8 289.2 L707.3 289.1 L708.8 289.0 L710.3 288.9 L711.8 288.8 L713.3 288.7 L714.8 288.5 L716.2 288.4 L717.7 288.3 L719.2 288.2 L720.7 288.1 L722.2 288.0 L723.7 287.9 L725.2 287.8 L726.7 287.8 L728.2 287.7 L729.7 287.6 L731.2 287.5 L732.7 287.4 L734.2 287.3 L735.7 287.3 L737.2 287.2 L738.7 287.1 L740.2 287.0 L741.7 287.0 L743.2 286.9 L744.7 286.8 L746.2 286.8 L747.7 286.7 L749.2 286.7 L750.7 286.6 L752.2 286.6 L753.6 286.5 L755.1 286.4 L756.6 286.4 L758.1 286.3 L759.6 286.3 L761.1 286.2 L762.6 286.2 L764.1 286.1 L765.6 286.1 L767.1 286.1 L768.6 286.0 L770.1 286.0 L771.6 285.9 L773.1 285.9 L774.6 285.9 L776.1 285.8 L777.7 285.8 L779.2 285.7 L780.7 285.7 L782.2 285.7 L783.7 285.6 L785.2 285.6 L786.7 285.6 L788.2 285.5 L789.7 285.5 L791.2 285.4 L792.7 285.4 L794.2 285.4 L795.7 285.3 L797.2 285.3 L798.7 285.3 L800.2 285.2 L801.7 285.2 L803.2 285.2 L804.7 285.1 L806.2 285.1 L807.7 285.0 L809.2 285.0 L810.7 285.0 L812.2 284.9 L813.7 284.9 L815.2 284.8 L816.7 284.8 L818.2 284.7 L819.7 284.7 L821.2 284.7 L822.7 284.6 L824.2 284.6 L825.7 284.5 L827.2 284.5 L828.7 284.4 L830.2 284.4 L831.7 284.3 L833.2 284.3 L834.6 284.2 L836.1 284.1 L837.6 284.1 L839.1 284.0 L840.6 284.0 L842.1 283.9 L843.6 283.8 L845.1 283.7 L846.6 283.7 L848.1 283.6 L849.6 283.5 L851.1 283.5 L852.6 283.4 L854.1 283.3 L855.6 283.2 L857.1 283.1 L858.6 283.0 L860.1 282.9 L861.6 282.8 L863.0 282.8 L864.5 282.7 L866.0 282.6 L867.5 282.5 L869.0 282.3 L870.5 282.2 L872.0 282.1 L873.5 282.0 L875.0 281.9 L876.5 281.8 L877.9 281.6 L879.4 281.5 L880.9 281.4 L882.4 281.3 L883.9 281.1 L885.4 281.0 L886.9 280.8 L888.3 280.7 L889.8 280.5 L891.3 280.4 L892.8 280.2 L894.3 280.1 L895.8 279.9 L897.2 279.7 L898.7 279.5 L900.2 279.4 L901.7 279.2 L903.2 279.0 L904.6 278.8 L906.1 278.6 L907.6 278.4 L909.1 278.2 L910.5 278.0 L912.0 277.8 L913.5 277.6 L915.0 277.4 L916.4 277.1 L917.9 276.9 L919.4 276.7 L920.8 276.4 L922.3 276.2 L923.8 276.0 L925.3 275.7 L926.7 275.4 L928.2 275.2 L929.7 274.9 L931.1 274.6 L932.6 274.4 L934.1 274.1 L935.5 273.8 L937.0 273.5 L938.4 273.2 L939.9 272.9 L941.4 272.6 L942.8 272.3 L944.3 272.0 L945.8 271.6 L947.2 271.3 L948.7 271.0 L950.1 270.6 L951.6 270.3 L953.0 269.9 L954.5 269.6 L955.9 269.2 L957.4 268.8 L958.8 268.4 L960.3 268.1 L961.7 267.7 L963.2 267.3 L964.6 266.9 L966.1 266.5 L967.5 266.0 L969.0 265.6 L970.4 265.2 L971.9 264.7 L973.3 264.3 L974.7 263.9 L976.2 263.4 L977.6 262.9 L979.1 262.5 L980.5 262.0"/>
</g>
<rect x="532.1" y="16.9" width="448.1" height="348.6" fill="none" stroke="#262626" stroke-width="0.5"/>
<path d="M645.4 365.5V360.5M645.4 16.9V21.9M758.4 365.5V360.5M758.4 16.9V21.9M871.5 365.5V360.5M871.5 16.9V21.9M532.1 288.0H537.1M980.2 288.0H975.2M532.1 210.5H537.1M980.2 210.5H975.2M532.1 133.0H537.1M980.2 133.0H975.2M532.1 55.5H537.1M980.2 55.5H975.2" stroke="#262626" stroke-width="0.5" fill="none"/>
<text x="526.1" y="371.4" text-anchor="end" class="tk">0</text>
<text x="526.1" y="294.0" text-anchor="end" class="tk">1</text>
<text x="526.1" y="216.5" text-anchor="end" class="tk">2</text>
<text x="526.1" y="139.0" text-anchor="end" class="tk">3</text>
<text x="526.1" y="61.5" text-anchor="end" class="tk">4</text>
<text x="532.1" y="385.6" text-anchor="middle" class="tk">0</text>
<text x="645.4" y="385.6" text-anchor="middle" class="tk"><tspan class="pi">π</tspan><tspan dx="0.6">/4</tspan></text>
<text x="758.4" y="385.6" text-anchor="middle" class="tk"><tspan class="pi">π</tspan><tspan dx="0.6">/2</tspan></text>
<text x="871.5" y="385.6" text-anchor="middle" class="tk">3<tspan class="pi" dx="1.2">π</tspan><tspan dx="0.6">/4</tspan></text>
<text x="980.2" y="385.6" text-anchor="middle" class="tk"><tspan class="pi">π</tspan></text>
<text x="514.1" y="184.3" text-anchor="middle" class="lab" style="font-size:23.5px">h</text>
<text x="755.6" y="413.6" text-anchor="middle" class="lab" style="font-size:22.5px">θ</text>
<rect x="543.5" y="28.5" width="142.4" height="83" fill="#fff" stroke="#262626" stroke-width="0.45"/>
<path d="M547.7 43.1H588.1" stroke="#ff0000" stroke-width="2.4"/>
<text x="592.1" y="49.4" class="lg it" style="font-size:23px">δ</text>
<text x="608.3" y="49.5" class="lg" style="fill:#555" textLength="16.5" lengthAdjust="spacingAndGlyphs">=</text>
<text x="632.0" y="49.2" class="lg" style="font-size:23.8px" textLength="38.5" lengthAdjust="spacingAndGlyphs">0.05</text>
<path d="M547.7 70.1H588.1" stroke="#0000ff" stroke-width="2.4"/>
<text x="592.1" y="76.4" class="lg it" style="font-size:23px">δ</text>
<text x="608.3" y="76.5" class="lg" style="fill:#555" textLength="16.5" lengthAdjust="spacingAndGlyphs">=</text>
<text x="632.0" y="76.2" class="lg" style="font-size:23.8px" textLength="38.5" lengthAdjust="spacingAndGlyphs">0.01</text>
<path d="M547.7 97.1H588.1" stroke="#ff00ff" stroke-width="2.4"/>
<text x="592.1" y="103.4" class="lg it" style="font-size:23px">δ</text>
<text x="608.3" y="103.5" class="lg" style="fill:#555" textLength="16.5" lengthAdjust="spacingAndGlyphs">=</text>
<text x="632.0" y="103.2" class="lg" style="font-size:23.8px" textLength="49.5" lengthAdjust="spacingAndGlyphs">0.005</text>
</svg>
</body></html>
